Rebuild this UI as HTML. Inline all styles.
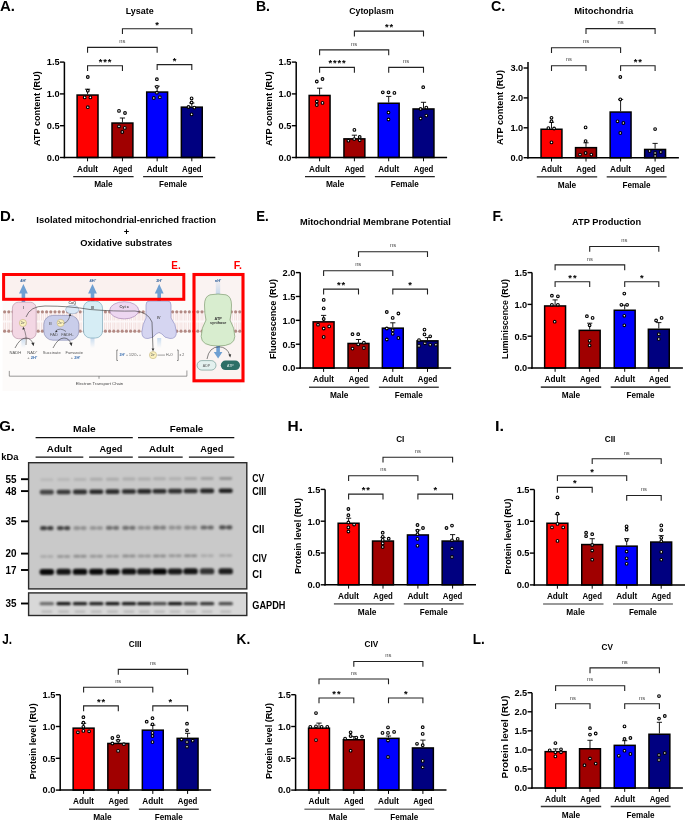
<!DOCTYPE html>
<html><head><meta charset="utf-8"><style>
html,body{margin:0;padding:0;background:#fff;}
svg{display:block;font-family:"Liberation Sans", sans-serif;will-change:transform;}
</style></head><body>
<svg width="685" height="820" viewBox="0 0 685 820">
<defs><filter id="bl" x="-20%" y="-50%" width="140%" height="200%"><feGaussianBlur stdDeviation="1.0"/></filter><linearGradient id="glow" x1="0" y1="0" x2="0" y2="1"><stop offset="0" stop-color="#c9dcef"/><stop offset="1" stop-color="#c9dcef" stop-opacity="0"/></linearGradient><linearGradient id="glowup" x1="0" y1="1" x2="0" y2="0"><stop offset="0" stop-color="#c3d6ea"/><stop offset="1" stop-color="#c3d6ea" stop-opacity="0.2"/></linearGradient></defs>
<rect width="685" height="820" fill="#fff"/>
<line x1="87.55" y1="94.30" x2="87.55" y2="89.20" stroke="#000" stroke-width="0.9"/>
<line x1="84.95" y1="89.20" x2="90.15" y2="89.20" stroke="#000" stroke-width="0.9"/>
<rect x="77.10" y="95.05" width="20.90" height="62.45" fill="#ff0000" stroke="#000" stroke-width="1.5"/>
<line x1="122.45" y1="122.30" x2="122.45" y2="118.00" stroke="#000" stroke-width="0.9"/>
<line x1="119.85" y1="118.00" x2="125.05" y2="118.00" stroke="#000" stroke-width="0.9"/>
<rect x="112.00" y="123.05" width="20.90" height="34.45" fill="#a00000" stroke="#000" stroke-width="1.5"/>
<line x1="157.15" y1="91.30" x2="157.15" y2="86.20" stroke="#000" stroke-width="0.9"/>
<line x1="154.55" y1="86.20" x2="159.75" y2="86.20" stroke="#000" stroke-width="0.9"/>
<rect x="146.70" y="92.05" width="20.90" height="65.45" fill="#0000ff" stroke="#000" stroke-width="1.5"/>
<line x1="191.80" y1="106.40" x2="191.80" y2="103.00" stroke="#000" stroke-width="0.9"/>
<line x1="189.20" y1="103.00" x2="194.40" y2="103.00" stroke="#000" stroke-width="0.9"/>
<rect x="181.35" y="107.15" width="20.90" height="50.35" fill="#000080" stroke="#000" stroke-width="1.5"/>
<circle cx="87.80" cy="77.00" r="1.35" fill="#fff" stroke="#000" stroke-width="1.1"/>
<circle cx="87.80" cy="90.70" r="1.35" fill="#fff" stroke="#000" stroke-width="1.1"/>
<circle cx="84.70" cy="97.40" r="1.35" fill="#fff" stroke="#000" stroke-width="1.1"/>
<circle cx="90.40" cy="97.40" r="1.35" fill="#fff" stroke="#000" stroke-width="1.1"/>
<circle cx="87.80" cy="107.20" r="1.35" fill="#fff" stroke="#000" stroke-width="1.1"/>
<circle cx="119.00" cy="110.90" r="1.35" fill="#fff" stroke="#000" stroke-width="1.1"/>
<circle cx="125.00" cy="113.00" r="1.35" fill="#fff" stroke="#000" stroke-width="1.1"/>
<circle cx="119.00" cy="126.40" r="1.35" fill="#fff" stroke="#000" stroke-width="1.1"/>
<circle cx="124.80" cy="127.90" r="1.35" fill="#fff" stroke="#000" stroke-width="1.1"/>
<circle cx="122.30" cy="132.00" r="1.35" fill="#fff" stroke="#000" stroke-width="1.1"/>
<circle cx="156.90" cy="79.20" r="1.35" fill="#fff" stroke="#000" stroke-width="1.1"/>
<circle cx="156.90" cy="86.80" r="1.35" fill="#fff" stroke="#000" stroke-width="1.1"/>
<circle cx="156.90" cy="92.70" r="1.35" fill="#fff" stroke="#000" stroke-width="1.1"/>
<circle cx="153.80" cy="98.00" r="1.35" fill="#fff" stroke="#000" stroke-width="1.1"/>
<circle cx="159.90" cy="97.20" r="1.35" fill="#fff" stroke="#000" stroke-width="1.1"/>
<circle cx="191.60" cy="98.40" r="1.35" fill="#fff" stroke="#000" stroke-width="1.1"/>
<circle cx="191.60" cy="102.50" r="1.35" fill="#fff" stroke="#000" stroke-width="1.1"/>
<circle cx="188.50" cy="107.00" r="1.35" fill="#fff" stroke="#000" stroke-width="1.1"/>
<circle cx="194.30" cy="107.60" r="1.35" fill="#fff" stroke="#000" stroke-width="1.1"/>
<circle cx="191.60" cy="114.40" r="1.35" fill="#fff" stroke="#000" stroke-width="1.1"/>
<line x1="64.40" y1="62.10" x2="64.40" y2="158.25" stroke="#000" stroke-width="1.5"/>
<line x1="63.65" y1="157.50" x2="215.30" y2="157.50" stroke="#000" stroke-width="1.5"/>
<line x1="60.00" y1="157.50" x2="64.40" y2="157.50" stroke="#000" stroke-width="1.4"/>
<text x="59.60" y="160.85" font-size="9.2" text-anchor="end" font-weight="bold" fill="#000" textLength="12.8" lengthAdjust="spacingAndGlyphs" >0.0</text>
<line x1="60.00" y1="125.70" x2="64.40" y2="125.70" stroke="#000" stroke-width="1.4"/>
<text x="59.60" y="129.05" font-size="9.2" text-anchor="end" font-weight="bold" fill="#000" textLength="12.8" lengthAdjust="spacingAndGlyphs" >0.5</text>
<line x1="60.00" y1="93.90" x2="64.40" y2="93.90" stroke="#000" stroke-width="1.4"/>
<text x="59.60" y="97.25" font-size="9.2" text-anchor="end" font-weight="bold" fill="#000" textLength="12.8" lengthAdjust="spacingAndGlyphs" >1.0</text>
<line x1="60.00" y1="62.10" x2="64.40" y2="62.10" stroke="#000" stroke-width="1.4"/>
<text x="59.60" y="65.45" font-size="9.2" text-anchor="end" font-weight="bold" fill="#000" textLength="12.8" lengthAdjust="spacingAndGlyphs" >1.5</text>
<line x1="87.55" y1="157.50" x2="87.55" y2="161.30" stroke="#000" stroke-width="1"/>
<line x1="122.45" y1="157.50" x2="122.45" y2="161.30" stroke="#000" stroke-width="1"/>
<line x1="157.15" y1="157.50" x2="157.15" y2="161.30" stroke="#000" stroke-width="1"/>
<line x1="191.80" y1="157.50" x2="191.80" y2="161.30" stroke="#000" stroke-width="1"/>
<text x="87.55" y="171.60" font-size="8.8" text-anchor="middle" font-weight="bold" fill="#000" textLength="21" lengthAdjust="spacingAndGlyphs" >Adult</text>
<text x="122.45" y="171.60" font-size="8.8" text-anchor="middle" font-weight="bold" fill="#000" textLength="19.5" lengthAdjust="spacingAndGlyphs" >Aged</text>
<text x="157.15" y="171.60" font-size="8.8" text-anchor="middle" font-weight="bold" fill="#000" textLength="21" lengthAdjust="spacingAndGlyphs" >Adult</text>
<text x="191.80" y="171.60" font-size="8.8" text-anchor="middle" font-weight="bold" fill="#000" textLength="19.5" lengthAdjust="spacingAndGlyphs" >Aged</text>
<line x1="73.20" y1="176.60" x2="133.60" y2="176.60" stroke="#222" stroke-width="1.3"/>
<line x1="143.10" y1="176.60" x2="203.00" y2="176.60" stroke="#222" stroke-width="1.3"/>
<text x="103.40" y="187.40" font-size="8.8" text-anchor="middle" font-weight="bold" fill="#000" textLength="18.5" lengthAdjust="spacingAndGlyphs" >Male</text>
<text x="173.00" y="187.40" font-size="8.8" text-anchor="middle" font-weight="bold" fill="#000" textLength="28" lengthAdjust="spacingAndGlyphs" >Female</text>
<path d="M87.55 71.10 V65.80 H122.45 V71.10" fill="none" stroke="#222" stroke-width="1.1"/>
<text x="105.50" y="64.80" font-size="9.4" text-anchor="middle" font-weight="bold" fill="#000" letter-spacing="0.9">***</text>
<path d="M157.15 69.90 V64.60 H191.80 V69.90" fill="none" stroke="#222" stroke-width="1.1"/>
<text x="174.98" y="63.60" font-size="9.4" text-anchor="middle" font-weight="bold" fill="#000" letter-spacing="0.9">*</text>
<path d="M87.55 52.70 V47.40 H157.15 V52.70" fill="none" stroke="#222" stroke-width="1.1"/>
<text x="122.35" y="43.10" font-size="5.8" text-anchor="middle" font-weight="normal" fill="#444" >ns</text>
<path d="M122.45 34.00 V28.70 H191.80 V34.00" fill="none" stroke="#222" stroke-width="1.1"/>
<text x="157.62" y="27.70" font-size="9.4" text-anchor="middle" font-weight="bold" fill="#000" letter-spacing="0.9">*</text>
<text x="139.70" y="14.00" font-size="9.4" text-anchor="middle" font-weight="bold" fill="#000" textLength="28" lengthAdjust="spacingAndGlyphs" >Lysate</text>
<text transform="translate(40.00,108.60) rotate(-90)" font-size="9.9" text-anchor="middle" font-weight="bold" textLength="75" lengthAdjust="spacingAndGlyphs">ATP content (RU)</text>
<line x1="319.60" y1="94.70" x2="319.60" y2="88.20" stroke="#000" stroke-width="0.9"/>
<line x1="317.00" y1="88.20" x2="322.20" y2="88.20" stroke="#000" stroke-width="0.9"/>
<rect x="309.15" y="95.45" width="20.90" height="62.05" fill="#ff0000" stroke="#000" stroke-width="1.5"/>
<line x1="354.40" y1="138.10" x2="354.40" y2="135.20" stroke="#000" stroke-width="0.9"/>
<line x1="351.80" y1="135.20" x2="357.00" y2="135.20" stroke="#000" stroke-width="0.9"/>
<rect x="343.95" y="138.85" width="20.90" height="18.65" fill="#a00000" stroke="#000" stroke-width="1.5"/>
<line x1="388.70" y1="102.50" x2="388.70" y2="96.40" stroke="#000" stroke-width="0.9"/>
<line x1="386.10" y1="96.40" x2="391.30" y2="96.40" stroke="#000" stroke-width="0.9"/>
<rect x="378.25" y="103.25" width="20.90" height="54.25" fill="#0000ff" stroke="#000" stroke-width="1.5"/>
<line x1="423.50" y1="108.20" x2="423.50" y2="102.30" stroke="#000" stroke-width="0.9"/>
<line x1="420.90" y1="102.30" x2="426.10" y2="102.30" stroke="#000" stroke-width="0.9"/>
<rect x="413.05" y="108.95" width="20.90" height="48.55" fill="#000080" stroke="#000" stroke-width="1.5"/>
<circle cx="316.80" cy="81.50" r="1.35" fill="#fff" stroke="#000" stroke-width="1.1"/>
<circle cx="322.50" cy="79.00" r="1.35" fill="#fff" stroke="#000" stroke-width="1.1"/>
<circle cx="316.80" cy="101.50" r="1.35" fill="#fff" stroke="#000" stroke-width="1.1"/>
<circle cx="316.80" cy="105.00" r="1.35" fill="#fff" stroke="#000" stroke-width="1.1"/>
<circle cx="322.50" cy="102.90" r="1.35" fill="#fff" stroke="#000" stroke-width="1.1"/>
<circle cx="354.40" cy="129.90" r="1.35" fill="#fff" stroke="#000" stroke-width="1.1"/>
<circle cx="348.40" cy="140.70" r="1.35" fill="#fff" stroke="#000" stroke-width="1.1"/>
<circle cx="354.20" cy="139.10" r="1.35" fill="#fff" stroke="#000" stroke-width="1.1"/>
<circle cx="359.70" cy="137.00" r="1.35" fill="#fff" stroke="#000" stroke-width="1.1"/>
<circle cx="359.70" cy="140.30" r="1.35" fill="#fff" stroke="#000" stroke-width="1.1"/>
<circle cx="382.80" cy="92.30" r="1.35" fill="#fff" stroke="#000" stroke-width="1.1"/>
<circle cx="388.50" cy="92.30" r="1.35" fill="#fff" stroke="#000" stroke-width="1.1"/>
<circle cx="394.40" cy="92.90" r="1.35" fill="#fff" stroke="#000" stroke-width="1.1"/>
<circle cx="388.50" cy="112.50" r="1.35" fill="#fff" stroke="#000" stroke-width="1.1"/>
<circle cx="388.50" cy="119.50" r="1.35" fill="#fff" stroke="#000" stroke-width="1.1"/>
<circle cx="423.20" cy="87.20" r="1.35" fill="#fff" stroke="#000" stroke-width="1.1"/>
<circle cx="420.60" cy="109.00" r="1.35" fill="#fff" stroke="#000" stroke-width="1.1"/>
<circle cx="426.30" cy="107.60" r="1.35" fill="#fff" stroke="#000" stroke-width="1.1"/>
<circle cx="426.30" cy="115.60" r="1.35" fill="#fff" stroke="#000" stroke-width="1.1"/>
<circle cx="420.60" cy="118.50" r="1.35" fill="#fff" stroke="#000" stroke-width="1.1"/>
<line x1="296.20" y1="62.10" x2="296.20" y2="158.25" stroke="#000" stroke-width="1.5"/>
<line x1="295.45" y1="157.50" x2="447.10" y2="157.50" stroke="#000" stroke-width="1.5"/>
<line x1="291.80" y1="157.50" x2="296.20" y2="157.50" stroke="#000" stroke-width="1.4"/>
<text x="291.40" y="160.85" font-size="9.2" text-anchor="end" font-weight="bold" fill="#000" textLength="12.8" lengthAdjust="spacingAndGlyphs" >0.0</text>
<line x1="291.80" y1="125.70" x2="296.20" y2="125.70" stroke="#000" stroke-width="1.4"/>
<text x="291.40" y="129.05" font-size="9.2" text-anchor="end" font-weight="bold" fill="#000" textLength="12.8" lengthAdjust="spacingAndGlyphs" >0.5</text>
<line x1="291.80" y1="93.90" x2="296.20" y2="93.90" stroke="#000" stroke-width="1.4"/>
<text x="291.40" y="97.25" font-size="9.2" text-anchor="end" font-weight="bold" fill="#000" textLength="12.8" lengthAdjust="spacingAndGlyphs" >1.0</text>
<line x1="291.80" y1="62.10" x2="296.20" y2="62.10" stroke="#000" stroke-width="1.4"/>
<text x="291.40" y="65.45" font-size="9.2" text-anchor="end" font-weight="bold" fill="#000" textLength="12.8" lengthAdjust="spacingAndGlyphs" >1.5</text>
<line x1="319.60" y1="157.50" x2="319.60" y2="161.30" stroke="#000" stroke-width="1"/>
<line x1="354.40" y1="157.50" x2="354.40" y2="161.30" stroke="#000" stroke-width="1"/>
<line x1="388.70" y1="157.50" x2="388.70" y2="161.30" stroke="#000" stroke-width="1"/>
<line x1="423.50" y1="157.50" x2="423.50" y2="161.30" stroke="#000" stroke-width="1"/>
<text x="319.60" y="171.60" font-size="8.8" text-anchor="middle" font-weight="bold" fill="#000" textLength="21" lengthAdjust="spacingAndGlyphs" >Adult</text>
<text x="354.40" y="171.60" font-size="8.8" text-anchor="middle" font-weight="bold" fill="#000" textLength="19.5" lengthAdjust="spacingAndGlyphs" >Aged</text>
<text x="388.70" y="171.60" font-size="8.8" text-anchor="middle" font-weight="bold" fill="#000" textLength="21" lengthAdjust="spacingAndGlyphs" >Adult</text>
<text x="423.50" y="171.60" font-size="8.8" text-anchor="middle" font-weight="bold" fill="#000" textLength="19.5" lengthAdjust="spacingAndGlyphs" >Aged</text>
<line x1="305.00" y1="176.60" x2="365.40" y2="176.60" stroke="#222" stroke-width="1.3"/>
<line x1="374.90" y1="176.60" x2="434.80" y2="176.60" stroke="#222" stroke-width="1.3"/>
<text x="335.20" y="187.40" font-size="8.8" text-anchor="middle" font-weight="bold" fill="#000" textLength="18.5" lengthAdjust="spacingAndGlyphs" >Male</text>
<text x="404.80" y="187.40" font-size="8.8" text-anchor="middle" font-weight="bold" fill="#000" textLength="28" lengthAdjust="spacingAndGlyphs" >Female</text>
<path d="M319.60 72.70 V67.40 H354.40 V72.70" fill="none" stroke="#222" stroke-width="1.1"/>
<text x="337.50" y="66.40" font-size="9.4" text-anchor="middle" font-weight="bold" fill="#000" letter-spacing="0.9">****</text>
<path d="M388.70 72.70 V67.40 H423.50 V72.70" fill="none" stroke="#222" stroke-width="1.1"/>
<text x="406.10" y="63.10" font-size="5.8" text-anchor="middle" font-weight="normal" fill="#444" >ns</text>
<path d="M319.60 55.20 V49.90 H388.70 V55.20" fill="none" stroke="#222" stroke-width="1.1"/>
<text x="354.15" y="45.60" font-size="5.8" text-anchor="middle" font-weight="normal" fill="#444" >ns</text>
<path d="M354.40 36.40 V31.10 H423.50 V36.40" fill="none" stroke="#222" stroke-width="1.1"/>
<text x="389.45" y="30.10" font-size="9.4" text-anchor="middle" font-weight="bold" fill="#000" letter-spacing="0.9">**</text>
<text x="371.50" y="14.40" font-size="9.4" text-anchor="middle" font-weight="bold" fill="#000" textLength="44.4" lengthAdjust="spacingAndGlyphs" >Cytoplasm</text>
<text transform="translate(271.60,108.60) rotate(-90)" font-size="9.9" text-anchor="middle" font-weight="bold" textLength="75" lengthAdjust="spacingAndGlyphs">ATP content (RU)</text>
<line x1="551.50" y1="128.50" x2="551.50" y2="122.30" stroke="#000" stroke-width="0.9"/>
<line x1="548.90" y1="122.30" x2="554.10" y2="122.30" stroke="#000" stroke-width="0.9"/>
<rect x="541.05" y="129.25" width="20.90" height="28.45" fill="#ff0000" stroke="#000" stroke-width="1.5"/>
<line x1="586.00" y1="146.90" x2="586.00" y2="142.80" stroke="#000" stroke-width="0.9"/>
<line x1="583.40" y1="142.80" x2="588.60" y2="142.80" stroke="#000" stroke-width="0.9"/>
<rect x="575.55" y="147.65" width="20.90" height="10.05" fill="#a00000" stroke="#000" stroke-width="1.5"/>
<line x1="620.60" y1="111.30" x2="620.60" y2="99.40" stroke="#000" stroke-width="0.9"/>
<line x1="618.00" y1="99.40" x2="623.20" y2="99.40" stroke="#000" stroke-width="0.9"/>
<rect x="610.15" y="112.05" width="20.90" height="45.65" fill="#0000ff" stroke="#000" stroke-width="1.5"/>
<line x1="655.10" y1="148.70" x2="655.10" y2="143.40" stroke="#000" stroke-width="0.9"/>
<line x1="652.50" y1="143.40" x2="657.70" y2="143.40" stroke="#000" stroke-width="0.9"/>
<rect x="644.65" y="149.45" width="20.90" height="8.25" fill="#000080" stroke="#000" stroke-width="1.5"/>
<circle cx="551.50" cy="117.80" r="1.35" fill="#fff" stroke="#000" stroke-width="1.1"/>
<circle cx="551.50" cy="121.30" r="1.35" fill="#fff" stroke="#000" stroke-width="1.1"/>
<circle cx="548.40" cy="128.10" r="1.35" fill="#fff" stroke="#000" stroke-width="1.1"/>
<circle cx="554.10" cy="128.50" r="1.35" fill="#fff" stroke="#000" stroke-width="1.1"/>
<circle cx="551.50" cy="142.40" r="1.35" fill="#fff" stroke="#000" stroke-width="1.1"/>
<circle cx="585.60" cy="127.40" r="1.35" fill="#fff" stroke="#000" stroke-width="1.1"/>
<circle cx="585.60" cy="141.10" r="1.35" fill="#fff" stroke="#000" stroke-width="1.1"/>
<circle cx="580.00" cy="154.60" r="1.35" fill="#fff" stroke="#000" stroke-width="1.1"/>
<circle cx="585.60" cy="153.00" r="1.35" fill="#fff" stroke="#000" stroke-width="1.1"/>
<circle cx="591.30" cy="154.60" r="1.35" fill="#fff" stroke="#000" stroke-width="1.1"/>
<circle cx="620.30" cy="77.00" r="1.35" fill="#fff" stroke="#000" stroke-width="1.1"/>
<circle cx="620.30" cy="99.40" r="1.35" fill="#fff" stroke="#000" stroke-width="1.1"/>
<circle cx="617.50" cy="121.30" r="1.35" fill="#fff" stroke="#000" stroke-width="1.1"/>
<circle cx="623.40" cy="123.00" r="1.35" fill="#fff" stroke="#000" stroke-width="1.1"/>
<circle cx="620.30" cy="133.00" r="1.35" fill="#fff" stroke="#000" stroke-width="1.1"/>
<circle cx="655.10" cy="129.10" r="1.35" fill="#fff" stroke="#000" stroke-width="1.1"/>
<circle cx="649.60" cy="151.00" r="1.35" fill="#fff" stroke="#000" stroke-width="1.1"/>
<circle cx="655.10" cy="153.00" r="1.35" fill="#fff" stroke="#000" stroke-width="1.1"/>
<circle cx="660.80" cy="152.00" r="1.35" fill="#fff" stroke="#000" stroke-width="1.1"/>
<circle cx="655.10" cy="156.00" r="1.35" fill="#fff" stroke="#000" stroke-width="1.1"/>
<line x1="528.00" y1="62.00" x2="528.00" y2="158.45" stroke="#000" stroke-width="1.5"/>
<line x1="527.25" y1="157.70" x2="678.90" y2="157.70" stroke="#000" stroke-width="1.5"/>
<line x1="523.60" y1="157.70" x2="528.00" y2="157.70" stroke="#000" stroke-width="1.4"/>
<text x="523.20" y="161.05" font-size="9.2" text-anchor="end" font-weight="bold" fill="#000" textLength="12.8" lengthAdjust="spacingAndGlyphs" >0.0</text>
<line x1="523.60" y1="127.80" x2="528.00" y2="127.80" stroke="#000" stroke-width="1.4"/>
<text x="523.20" y="131.15" font-size="9.2" text-anchor="end" font-weight="bold" fill="#000" textLength="12.8" lengthAdjust="spacingAndGlyphs" >1.0</text>
<line x1="523.60" y1="97.90" x2="528.00" y2="97.90" stroke="#000" stroke-width="1.4"/>
<text x="523.20" y="101.25" font-size="9.2" text-anchor="end" font-weight="bold" fill="#000" textLength="12.8" lengthAdjust="spacingAndGlyphs" >2.0</text>
<line x1="523.60" y1="68.00" x2="528.00" y2="68.00" stroke="#000" stroke-width="1.4"/>
<text x="523.20" y="71.35" font-size="9.2" text-anchor="end" font-weight="bold" fill="#000" textLength="12.8" lengthAdjust="spacingAndGlyphs" >3.0</text>
<line x1="551.50" y1="157.70" x2="551.50" y2="161.50" stroke="#000" stroke-width="1"/>
<line x1="586.00" y1="157.70" x2="586.00" y2="161.50" stroke="#000" stroke-width="1"/>
<line x1="620.60" y1="157.70" x2="620.60" y2="161.50" stroke="#000" stroke-width="1"/>
<line x1="655.10" y1="157.70" x2="655.10" y2="161.50" stroke="#000" stroke-width="1"/>
<text x="551.50" y="171.80" font-size="8.8" text-anchor="middle" font-weight="bold" fill="#000" textLength="21" lengthAdjust="spacingAndGlyphs" >Adult</text>
<text x="586.00" y="171.80" font-size="8.8" text-anchor="middle" font-weight="bold" fill="#000" textLength="19.5" lengthAdjust="spacingAndGlyphs" >Aged</text>
<text x="620.60" y="171.80" font-size="8.8" text-anchor="middle" font-weight="bold" fill="#000" textLength="21" lengthAdjust="spacingAndGlyphs" >Adult</text>
<text x="655.10" y="171.80" font-size="8.8" text-anchor="middle" font-weight="bold" fill="#000" textLength="19.5" lengthAdjust="spacingAndGlyphs" >Aged</text>
<line x1="536.80" y1="176.80" x2="597.20" y2="176.80" stroke="#222" stroke-width="1.3"/>
<line x1="606.70" y1="176.80" x2="666.60" y2="176.80" stroke="#222" stroke-width="1.3"/>
<text x="567.00" y="187.60" font-size="8.8" text-anchor="middle" font-weight="bold" fill="#000" textLength="18.5" lengthAdjust="spacingAndGlyphs" >Male</text>
<text x="636.60" y="187.60" font-size="8.8" text-anchor="middle" font-weight="bold" fill="#000" textLength="28" lengthAdjust="spacingAndGlyphs" >Female</text>
<path d="M551.50 71.00 V65.70 H586.00 V71.00" fill="none" stroke="#222" stroke-width="1.1"/>
<text x="568.75" y="61.40" font-size="5.8" text-anchor="middle" font-weight="normal" fill="#444" >ns</text>
<path d="M620.60 71.00 V65.70 H655.10 V71.00" fill="none" stroke="#222" stroke-width="1.1"/>
<text x="638.35" y="64.70" font-size="9.4" text-anchor="middle" font-weight="bold" fill="#000" letter-spacing="0.9">**</text>
<path d="M551.50 53.00 V47.70 H620.60 V53.00" fill="none" stroke="#222" stroke-width="1.1"/>
<text x="586.05" y="43.40" font-size="5.8" text-anchor="middle" font-weight="normal" fill="#444" >ns</text>
<path d="M586.00 33.90 V28.60 H655.10 V33.90" fill="none" stroke="#222" stroke-width="1.1"/>
<text x="620.55" y="24.30" font-size="5.8" text-anchor="middle" font-weight="normal" fill="#444" >ns</text>
<text x="603.70" y="14.40" font-size="9.4" text-anchor="middle" font-weight="bold" fill="#000" textLength="59" lengthAdjust="spacingAndGlyphs" >Mitochondria</text>
<text transform="translate(503.30,107.50) rotate(-90)" font-size="9.9" text-anchor="middle" font-weight="bold" textLength="75" lengthAdjust="spacingAndGlyphs">ATP content (RU)</text>
<line x1="323.60" y1="321.10" x2="323.60" y2="315.40" stroke="#000" stroke-width="0.9"/>
<line x1="321.00" y1="315.40" x2="326.20" y2="315.40" stroke="#000" stroke-width="0.9"/>
<rect x="313.15" y="321.85" width="20.90" height="46.25" fill="#ff0000" stroke="#000" stroke-width="1.5"/>
<line x1="358.50" y1="342.70" x2="358.50" y2="339.50" stroke="#000" stroke-width="0.9"/>
<line x1="355.90" y1="339.50" x2="361.10" y2="339.50" stroke="#000" stroke-width="0.9"/>
<rect x="348.05" y="343.45" width="20.90" height="24.65" fill="#a00000" stroke="#000" stroke-width="1.5"/>
<line x1="392.80" y1="327.40" x2="392.80" y2="322.80" stroke="#000" stroke-width="0.9"/>
<line x1="390.20" y1="322.80" x2="395.40" y2="322.80" stroke="#000" stroke-width="0.9"/>
<rect x="382.35" y="328.15" width="20.90" height="39.95" fill="#0000ff" stroke="#000" stroke-width="1.5"/>
<line x1="427.50" y1="340.10" x2="427.50" y2="337.60" stroke="#000" stroke-width="0.9"/>
<line x1="424.90" y1="337.60" x2="430.10" y2="337.60" stroke="#000" stroke-width="0.9"/>
<rect x="417.05" y="340.85" width="20.90" height="27.25" fill="#000080" stroke="#000" stroke-width="1.5"/>
<circle cx="323.70" cy="299.90" r="1.35" fill="#fff" stroke="#000" stroke-width="1.1"/>
<circle cx="323.70" cy="308.40" r="1.35" fill="#fff" stroke="#000" stroke-width="1.1"/>
<circle cx="323.70" cy="319.00" r="1.35" fill="#fff" stroke="#000" stroke-width="1.1"/>
<circle cx="318.00" cy="324.70" r="1.35" fill="#fff" stroke="#000" stroke-width="1.1"/>
<circle cx="323.70" cy="328.50" r="1.35" fill="#fff" stroke="#000" stroke-width="1.1"/>
<circle cx="329.20" cy="326.40" r="1.35" fill="#fff" stroke="#000" stroke-width="1.1"/>
<circle cx="323.70" cy="337.00" r="1.35" fill="#fff" stroke="#000" stroke-width="1.1"/>
<circle cx="352.50" cy="334.20" r="1.35" fill="#fff" stroke="#000" stroke-width="1.1"/>
<circle cx="358.20" cy="334.20" r="1.35" fill="#fff" stroke="#000" stroke-width="1.1"/>
<circle cx="358.20" cy="344.40" r="1.35" fill="#fff" stroke="#000" stroke-width="1.1"/>
<circle cx="363.90" cy="342.70" r="1.35" fill="#fff" stroke="#000" stroke-width="1.1"/>
<circle cx="352.50" cy="348.60" r="1.35" fill="#fff" stroke="#000" stroke-width="1.1"/>
<circle cx="363.90" cy="348.00" r="1.35" fill="#fff" stroke="#000" stroke-width="1.1"/>
<circle cx="386.80" cy="312.00" r="1.35" fill="#fff" stroke="#000" stroke-width="1.1"/>
<circle cx="398.40" cy="313.50" r="1.35" fill="#fff" stroke="#000" stroke-width="1.1"/>
<circle cx="392.70" cy="317.90" r="1.35" fill="#fff" stroke="#000" stroke-width="1.1"/>
<circle cx="386.80" cy="328.50" r="1.35" fill="#fff" stroke="#000" stroke-width="1.1"/>
<circle cx="392.70" cy="330.20" r="1.35" fill="#fff" stroke="#000" stroke-width="1.1"/>
<circle cx="392.70" cy="333.80" r="1.35" fill="#fff" stroke="#000" stroke-width="1.1"/>
<circle cx="386.80" cy="339.50" r="1.35" fill="#fff" stroke="#000" stroke-width="1.1"/>
<circle cx="398.40" cy="338.00" r="1.35" fill="#fff" stroke="#000" stroke-width="1.1"/>
<circle cx="424.50" cy="329.60" r="1.35" fill="#fff" stroke="#000" stroke-width="1.1"/>
<circle cx="424.50" cy="334.40" r="1.35" fill="#fff" stroke="#000" stroke-width="1.1"/>
<circle cx="430.20" cy="336.30" r="1.35" fill="#fff" stroke="#000" stroke-width="1.1"/>
<circle cx="419.00" cy="340.10" r="1.35" fill="#fff" stroke="#000" stroke-width="1.1"/>
<circle cx="424.90" cy="343.30" r="1.35" fill="#fff" stroke="#000" stroke-width="1.1"/>
<circle cx="430.20" cy="344.80" r="1.35" fill="#fff" stroke="#000" stroke-width="1.1"/>
<circle cx="435.90" cy="344.80" r="1.35" fill="#fff" stroke="#000" stroke-width="1.1"/>
<circle cx="419.00" cy="345.90" r="1.35" fill="#fff" stroke="#000" stroke-width="1.1"/>
<line x1="300.20" y1="272.60" x2="300.20" y2="368.85" stroke="#000" stroke-width="1.5"/>
<line x1="299.45" y1="368.10" x2="451.10" y2="368.10" stroke="#000" stroke-width="1.5"/>
<line x1="295.80" y1="368.10" x2="300.20" y2="368.10" stroke="#000" stroke-width="1.4"/>
<text x="295.40" y="371.45" font-size="9.2" text-anchor="end" font-weight="bold" fill="#000" textLength="12.8" lengthAdjust="spacingAndGlyphs" >0.0</text>
<line x1="295.80" y1="344.23" x2="300.20" y2="344.23" stroke="#000" stroke-width="1.4"/>
<text x="295.40" y="347.58" font-size="9.2" text-anchor="end" font-weight="bold" fill="#000" textLength="12.8" lengthAdjust="spacingAndGlyphs" >0.5</text>
<line x1="295.80" y1="320.35" x2="300.20" y2="320.35" stroke="#000" stroke-width="1.4"/>
<text x="295.40" y="323.70" font-size="9.2" text-anchor="end" font-weight="bold" fill="#000" textLength="12.8" lengthAdjust="spacingAndGlyphs" >1.0</text>
<line x1="295.80" y1="296.48" x2="300.20" y2="296.48" stroke="#000" stroke-width="1.4"/>
<text x="295.40" y="299.83" font-size="9.2" text-anchor="end" font-weight="bold" fill="#000" textLength="12.8" lengthAdjust="spacingAndGlyphs" >1.5</text>
<line x1="295.80" y1="272.60" x2="300.20" y2="272.60" stroke="#000" stroke-width="1.4"/>
<text x="295.40" y="275.95" font-size="9.2" text-anchor="end" font-weight="bold" fill="#000" textLength="12.8" lengthAdjust="spacingAndGlyphs" >2.0</text>
<line x1="323.60" y1="368.10" x2="323.60" y2="371.90" stroke="#000" stroke-width="1"/>
<line x1="358.50" y1="368.10" x2="358.50" y2="371.90" stroke="#000" stroke-width="1"/>
<line x1="392.80" y1="368.10" x2="392.80" y2="371.90" stroke="#000" stroke-width="1"/>
<line x1="427.50" y1="368.10" x2="427.50" y2="371.90" stroke="#000" stroke-width="1"/>
<text x="323.60" y="382.20" font-size="8.8" text-anchor="middle" font-weight="bold" fill="#000" textLength="21" lengthAdjust="spacingAndGlyphs" >Adult</text>
<text x="358.50" y="382.20" font-size="8.8" text-anchor="middle" font-weight="bold" fill="#000" textLength="19.5" lengthAdjust="spacingAndGlyphs" >Aged</text>
<text x="392.80" y="382.20" font-size="8.8" text-anchor="middle" font-weight="bold" fill="#000" textLength="21" lengthAdjust="spacingAndGlyphs" >Adult</text>
<text x="427.50" y="382.20" font-size="8.8" text-anchor="middle" font-weight="bold" fill="#000" textLength="19.5" lengthAdjust="spacingAndGlyphs" >Aged</text>
<line x1="309.00" y1="387.20" x2="369.40" y2="387.20" stroke="#444" stroke-width="1.6"/>
<line x1="378.90" y1="387.20" x2="438.80" y2="387.20" stroke="#444" stroke-width="1.6"/>
<text x="339.20" y="398.00" font-size="8.8" text-anchor="middle" font-weight="bold" fill="#000" textLength="18.5" lengthAdjust="spacingAndGlyphs" >Male</text>
<text x="408.80" y="398.00" font-size="8.8" text-anchor="middle" font-weight="bold" fill="#000" textLength="28" lengthAdjust="spacingAndGlyphs" >Female</text>
<path d="M323.60 294.40 V289.10 H358.50 V294.40" fill="none" stroke="#222" stroke-width="1.1"/>
<text x="341.55" y="288.10" font-size="9.4" text-anchor="middle" font-weight="bold" fill="#000" letter-spacing="0.9">**</text>
<path d="M392.80 294.40 V289.10 H427.50 V294.40" fill="none" stroke="#222" stroke-width="1.1"/>
<text x="410.65" y="288.10" font-size="9.4" text-anchor="middle" font-weight="bold" fill="#000" letter-spacing="0.9">*</text>
<path d="M323.60 276.00 V270.70 H392.80 V276.00" fill="none" stroke="#222" stroke-width="1.1"/>
<text x="358.20" y="266.40" font-size="5.8" text-anchor="middle" font-weight="normal" fill="#444" >ns</text>
<path d="M358.50 257.00 V251.70 H427.50 V257.00" fill="none" stroke="#222" stroke-width="1.1"/>
<text x="393.00" y="247.40" font-size="5.8" text-anchor="middle" font-weight="normal" fill="#444" >ns</text>
<text x="375.40" y="224.90" font-size="9.4" text-anchor="middle" font-weight="bold" fill="#000" textLength="150.8" lengthAdjust="spacingAndGlyphs" >Mitochondrial Membrane Potential</text>
<text transform="translate(275.50,319.00) rotate(-90)" font-size="9.9" text-anchor="middle" font-weight="bold" textLength="80" lengthAdjust="spacingAndGlyphs">Fluorescence (RU)</text>
<line x1="555.10" y1="305.20" x2="555.10" y2="299.90" stroke="#000" stroke-width="0.9"/>
<line x1="552.50" y1="299.90" x2="557.70" y2="299.90" stroke="#000" stroke-width="0.9"/>
<rect x="544.65" y="305.95" width="20.90" height="62.05" fill="#ff0000" stroke="#000" stroke-width="1.5"/>
<line x1="589.70" y1="329.60" x2="589.70" y2="323.20" stroke="#000" stroke-width="0.9"/>
<line x1="587.10" y1="323.20" x2="592.30" y2="323.20" stroke="#000" stroke-width="0.9"/>
<rect x="579.25" y="330.35" width="20.90" height="37.65" fill="#a00000" stroke="#000" stroke-width="1.5"/>
<line x1="624.70" y1="309.50" x2="624.70" y2="305.20" stroke="#000" stroke-width="0.9"/>
<line x1="622.10" y1="305.20" x2="627.30" y2="305.20" stroke="#000" stroke-width="0.9"/>
<rect x="614.25" y="310.25" width="20.90" height="57.75" fill="#0000ff" stroke="#000" stroke-width="1.5"/>
<line x1="658.80" y1="328.50" x2="658.80" y2="322.60" stroke="#000" stroke-width="0.9"/>
<line x1="656.20" y1="322.60" x2="661.40" y2="322.60" stroke="#000" stroke-width="0.9"/>
<rect x="648.35" y="329.25" width="20.90" height="38.75" fill="#000080" stroke="#000" stroke-width="1.5"/>
<circle cx="551.90" cy="295.70" r="1.35" fill="#fff" stroke="#000" stroke-width="1.1"/>
<circle cx="557.90" cy="296.30" r="1.35" fill="#fff" stroke="#000" stroke-width="1.1"/>
<circle cx="551.90" cy="304.80" r="1.35" fill="#fff" stroke="#000" stroke-width="1.1"/>
<circle cx="557.90" cy="304.80" r="1.35" fill="#fff" stroke="#000" stroke-width="1.1"/>
<circle cx="554.70" cy="321.70" r="1.35" fill="#fff" stroke="#000" stroke-width="1.1"/>
<circle cx="586.90" cy="316.20" r="1.35" fill="#fff" stroke="#000" stroke-width="1.1"/>
<circle cx="592.60" cy="317.90" r="1.35" fill="#fff" stroke="#000" stroke-width="1.1"/>
<circle cx="589.60" cy="325.30" r="1.35" fill="#fff" stroke="#000" stroke-width="1.1"/>
<circle cx="589.60" cy="340.80" r="1.35" fill="#fff" stroke="#000" stroke-width="1.1"/>
<circle cx="589.60" cy="345.40" r="1.35" fill="#fff" stroke="#000" stroke-width="1.1"/>
<circle cx="624.30" cy="293.60" r="1.35" fill="#fff" stroke="#000" stroke-width="1.1"/>
<circle cx="621.40" cy="304.80" r="1.35" fill="#fff" stroke="#000" stroke-width="1.1"/>
<circle cx="627.10" cy="304.80" r="1.35" fill="#fff" stroke="#000" stroke-width="1.1"/>
<circle cx="624.30" cy="315.80" r="1.35" fill="#fff" stroke="#000" stroke-width="1.1"/>
<circle cx="624.30" cy="325.30" r="1.35" fill="#fff" stroke="#000" stroke-width="1.1"/>
<circle cx="656.10" cy="320.50" r="1.35" fill="#fff" stroke="#000" stroke-width="1.1"/>
<circle cx="661.60" cy="317.90" r="1.35" fill="#fff" stroke="#000" stroke-width="1.1"/>
<circle cx="658.80" cy="334.20" r="1.35" fill="#fff" stroke="#000" stroke-width="1.1"/>
<circle cx="658.80" cy="339.10" r="1.35" fill="#fff" stroke="#000" stroke-width="1.1"/>
<line x1="532.00" y1="272.60" x2="532.00" y2="368.75" stroke="#000" stroke-width="1.5"/>
<line x1="531.25" y1="368.00" x2="682.90" y2="368.00" stroke="#000" stroke-width="1.5"/>
<line x1="527.60" y1="368.00" x2="532.00" y2="368.00" stroke="#000" stroke-width="1.4"/>
<text x="527.20" y="371.35" font-size="9.2" text-anchor="end" font-weight="bold" fill="#000" textLength="12.8" lengthAdjust="spacingAndGlyphs" >0.0</text>
<line x1="527.60" y1="336.20" x2="532.00" y2="336.20" stroke="#000" stroke-width="1.4"/>
<text x="527.20" y="339.55" font-size="9.2" text-anchor="end" font-weight="bold" fill="#000" textLength="12.8" lengthAdjust="spacingAndGlyphs" >0.5</text>
<line x1="527.60" y1="304.40" x2="532.00" y2="304.40" stroke="#000" stroke-width="1.4"/>
<text x="527.20" y="307.75" font-size="9.2" text-anchor="end" font-weight="bold" fill="#000" textLength="12.8" lengthAdjust="spacingAndGlyphs" >1.0</text>
<line x1="527.60" y1="272.60" x2="532.00" y2="272.60" stroke="#000" stroke-width="1.4"/>
<text x="527.20" y="275.95" font-size="9.2" text-anchor="end" font-weight="bold" fill="#000" textLength="12.8" lengthAdjust="spacingAndGlyphs" >1.5</text>
<line x1="555.10" y1="368.00" x2="555.10" y2="371.80" stroke="#000" stroke-width="1"/>
<line x1="589.70" y1="368.00" x2="589.70" y2="371.80" stroke="#000" stroke-width="1"/>
<line x1="624.70" y1="368.00" x2="624.70" y2="371.80" stroke="#000" stroke-width="1"/>
<line x1="658.80" y1="368.00" x2="658.80" y2="371.80" stroke="#000" stroke-width="1"/>
<text x="555.10" y="382.10" font-size="8.8" text-anchor="middle" font-weight="bold" fill="#000" textLength="21" lengthAdjust="spacingAndGlyphs" >Adult</text>
<text x="589.70" y="382.10" font-size="8.8" text-anchor="middle" font-weight="bold" fill="#000" textLength="19.5" lengthAdjust="spacingAndGlyphs" >Aged</text>
<text x="624.70" y="382.10" font-size="8.8" text-anchor="middle" font-weight="bold" fill="#000" textLength="21" lengthAdjust="spacingAndGlyphs" >Adult</text>
<text x="658.80" y="382.10" font-size="8.8" text-anchor="middle" font-weight="bold" fill="#000" textLength="19.5" lengthAdjust="spacingAndGlyphs" >Aged</text>
<line x1="540.80" y1="387.10" x2="601.20" y2="387.10" stroke="#444" stroke-width="1.6"/>
<line x1="610.70" y1="387.10" x2="670.60" y2="387.10" stroke="#444" stroke-width="1.6"/>
<text x="571.00" y="397.90" font-size="8.8" text-anchor="middle" font-weight="bold" fill="#000" textLength="18.5" lengthAdjust="spacingAndGlyphs" >Male</text>
<text x="640.60" y="397.90" font-size="8.8" text-anchor="middle" font-weight="bold" fill="#000" textLength="28" lengthAdjust="spacingAndGlyphs" >Female</text>
<path d="M555.10 287.10 V281.80 H589.70 V287.10" fill="none" stroke="#222" stroke-width="1.1"/>
<text x="572.90" y="280.80" font-size="9.4" text-anchor="middle" font-weight="bold" fill="#000" letter-spacing="0.9">**</text>
<path d="M624.70 287.10 V281.80 H658.80 V287.10" fill="none" stroke="#222" stroke-width="1.1"/>
<text x="642.25" y="280.80" font-size="9.4" text-anchor="middle" font-weight="bold" fill="#000" letter-spacing="0.9">*</text>
<path d="M555.10 270.20 V264.90 H624.70 V270.20" fill="none" stroke="#222" stroke-width="1.1"/>
<text x="589.90" y="260.60" font-size="5.8" text-anchor="middle" font-weight="normal" fill="#444" >ns</text>
<path d="M589.70 251.80 V246.50 H658.80 V251.80" fill="none" stroke="#222" stroke-width="1.1"/>
<text x="624.25" y="242.20" font-size="5.8" text-anchor="middle" font-weight="normal" fill="#444" >ns</text>
<text x="606.60" y="224.90" font-size="9.4" text-anchor="middle" font-weight="bold" fill="#000" textLength="69.2" lengthAdjust="spacingAndGlyphs" >ATP Production</text>
<text transform="translate(508.10,319.00) rotate(-90)" font-size="9.9" text-anchor="middle" font-weight="bold" textLength="80" lengthAdjust="spacingAndGlyphs">Luminiscence (RU)</text>
<line x1="348.60" y1="522.50" x2="348.60" y2="518.20" stroke="#000" stroke-width="0.9"/>
<line x1="346.00" y1="518.20" x2="351.20" y2="518.20" stroke="#000" stroke-width="0.9"/>
<rect x="338.15" y="523.25" width="20.90" height="61.55" fill="#ff0000" stroke="#000" stroke-width="1.5"/>
<line x1="383.00" y1="540.30" x2="383.00" y2="537.60" stroke="#000" stroke-width="0.9"/>
<line x1="380.40" y1="537.60" x2="385.60" y2="537.60" stroke="#000" stroke-width="0.9"/>
<rect x="372.55" y="541.05" width="20.90" height="43.75" fill="#a00000" stroke="#000" stroke-width="1.5"/>
<line x1="417.90" y1="534.20" x2="417.90" y2="530.00" stroke="#000" stroke-width="0.9"/>
<line x1="415.30" y1="530.00" x2="420.50" y2="530.00" stroke="#000" stroke-width="0.9"/>
<rect x="407.45" y="534.95" width="20.90" height="49.85" fill="#0000ff" stroke="#000" stroke-width="1.5"/>
<line x1="452.60" y1="540.30" x2="452.60" y2="534.60" stroke="#000" stroke-width="0.9"/>
<line x1="450.00" y1="534.60" x2="455.20" y2="534.60" stroke="#000" stroke-width="0.9"/>
<rect x="442.15" y="541.05" width="20.90" height="43.75" fill="#000080" stroke="#000" stroke-width="1.5"/>
<circle cx="348.40" cy="509.00" r="1.35" fill="#fff" stroke="#000" stroke-width="1.1"/>
<circle cx="348.40" cy="515.20" r="1.35" fill="#fff" stroke="#000" stroke-width="1.1"/>
<circle cx="348.40" cy="522.50" r="1.35" fill="#fff" stroke="#000" stroke-width="1.1"/>
<circle cx="354.10" cy="524.60" r="1.35" fill="#fff" stroke="#000" stroke-width="1.1"/>
<circle cx="348.40" cy="527.40" r="1.35" fill="#fff" stroke="#000" stroke-width="1.1"/>
<circle cx="348.40" cy="531.50" r="1.35" fill="#fff" stroke="#000" stroke-width="1.1"/>
<circle cx="382.70" cy="532.70" r="1.35" fill="#fff" stroke="#000" stroke-width="1.1"/>
<circle cx="382.70" cy="536.80" r="1.35" fill="#fff" stroke="#000" stroke-width="1.1"/>
<circle cx="382.70" cy="539.90" r="1.35" fill="#fff" stroke="#000" stroke-width="1.1"/>
<circle cx="388.70" cy="538.70" r="1.35" fill="#fff" stroke="#000" stroke-width="1.1"/>
<circle cx="382.70" cy="543.40" r="1.35" fill="#fff" stroke="#000" stroke-width="1.1"/>
<circle cx="382.70" cy="547.00" r="1.35" fill="#fff" stroke="#000" stroke-width="1.1"/>
<circle cx="417.50" cy="525.00" r="1.35" fill="#fff" stroke="#000" stroke-width="1.1"/>
<circle cx="423.00" cy="528.00" r="1.35" fill="#fff" stroke="#000" stroke-width="1.1"/>
<circle cx="417.50" cy="530.70" r="1.35" fill="#fff" stroke="#000" stroke-width="1.1"/>
<circle cx="417.50" cy="534.20" r="1.35" fill="#fff" stroke="#000" stroke-width="1.1"/>
<circle cx="417.50" cy="538.90" r="1.35" fill="#fff" stroke="#000" stroke-width="1.1"/>
<circle cx="417.50" cy="545.80" r="1.35" fill="#fff" stroke="#000" stroke-width="1.1"/>
<circle cx="446.50" cy="528.00" r="1.35" fill="#fff" stroke="#000" stroke-width="1.1"/>
<circle cx="452.00" cy="525.60" r="1.35" fill="#fff" stroke="#000" stroke-width="1.1"/>
<circle cx="452.00" cy="540.30" r="1.35" fill="#fff" stroke="#000" stroke-width="1.1"/>
<circle cx="457.70" cy="538.90" r="1.35" fill="#fff" stroke="#000" stroke-width="1.1"/>
<circle cx="452.00" cy="548.50" r="1.35" fill="#fff" stroke="#000" stroke-width="1.1"/>
<circle cx="452.00" cy="557.00" r="1.35" fill="#fff" stroke="#000" stroke-width="1.1"/>
<line x1="325.10" y1="489.40" x2="325.10" y2="585.55" stroke="#000" stroke-width="1.5"/>
<line x1="324.35" y1="584.80" x2="476.00" y2="584.80" stroke="#000" stroke-width="1.5"/>
<line x1="320.70" y1="584.80" x2="325.10" y2="584.80" stroke="#000" stroke-width="1.4"/>
<text x="320.30" y="588.15" font-size="9.2" text-anchor="end" font-weight="bold" fill="#000" textLength="12.8" lengthAdjust="spacingAndGlyphs" >0.0</text>
<line x1="320.70" y1="553.00" x2="325.10" y2="553.00" stroke="#000" stroke-width="1.4"/>
<text x="320.30" y="556.35" font-size="9.2" text-anchor="end" font-weight="bold" fill="#000" textLength="12.8" lengthAdjust="spacingAndGlyphs" >0.5</text>
<line x1="320.70" y1="521.20" x2="325.10" y2="521.20" stroke="#000" stroke-width="1.4"/>
<text x="320.30" y="524.55" font-size="9.2" text-anchor="end" font-weight="bold" fill="#000" textLength="12.8" lengthAdjust="spacingAndGlyphs" >1.0</text>
<line x1="320.70" y1="489.40" x2="325.10" y2="489.40" stroke="#000" stroke-width="1.4"/>
<text x="320.30" y="492.75" font-size="9.2" text-anchor="end" font-weight="bold" fill="#000" textLength="12.8" lengthAdjust="spacingAndGlyphs" >1.5</text>
<line x1="348.60" y1="584.80" x2="348.60" y2="588.60" stroke="#000" stroke-width="1"/>
<line x1="383.00" y1="584.80" x2="383.00" y2="588.60" stroke="#000" stroke-width="1"/>
<line x1="417.90" y1="584.80" x2="417.90" y2="588.60" stroke="#000" stroke-width="1"/>
<line x1="452.60" y1="584.80" x2="452.60" y2="588.60" stroke="#000" stroke-width="1"/>
<text x="348.60" y="598.90" font-size="8.8" text-anchor="middle" font-weight="bold" fill="#000" textLength="21" lengthAdjust="spacingAndGlyphs" >Adult</text>
<text x="383.00" y="598.90" font-size="8.8" text-anchor="middle" font-weight="bold" fill="#000" textLength="19.5" lengthAdjust="spacingAndGlyphs" >Aged</text>
<text x="417.90" y="598.90" font-size="8.8" text-anchor="middle" font-weight="bold" fill="#000" textLength="21" lengthAdjust="spacingAndGlyphs" >Adult</text>
<text x="452.60" y="598.90" font-size="8.8" text-anchor="middle" font-weight="bold" fill="#000" textLength="19.5" lengthAdjust="spacingAndGlyphs" >Aged</text>
<line x1="333.90" y1="603.90" x2="394.30" y2="603.90" stroke="#777" stroke-width="1.6"/>
<line x1="403.80" y1="603.90" x2="463.70" y2="603.90" stroke="#777" stroke-width="1.6"/>
<text x="367.10" y="614.70" font-size="8.8" text-anchor="middle" font-weight="bold" fill="#000" textLength="18.5" lengthAdjust="spacingAndGlyphs" >Male</text>
<text x="433.70" y="614.70" font-size="8.8" text-anchor="middle" font-weight="bold" fill="#000" textLength="28" lengthAdjust="spacingAndGlyphs" >Female</text>
<path d="M348.60 499.40 V494.10 H383.00 V499.40" fill="none" stroke="#222" stroke-width="1.1"/>
<text x="366.30" y="493.10" font-size="9.4" text-anchor="middle" font-weight="bold" fill="#000" letter-spacing="0.9">**</text>
<path d="M417.90 499.40 V494.10 H452.60 V499.40" fill="none" stroke="#222" stroke-width="1.1"/>
<text x="435.75" y="493.10" font-size="9.4" text-anchor="middle" font-weight="bold" fill="#000" letter-spacing="0.9">*</text>
<path d="M348.60 481.00 V475.70 H417.90 V481.00" fill="none" stroke="#222" stroke-width="1.1"/>
<text x="383.25" y="471.40" font-size="5.8" text-anchor="middle" font-weight="normal" fill="#444" >ns</text>
<path d="M383.00 462.60 V457.30 H452.60 V462.60" fill="none" stroke="#222" stroke-width="1.1"/>
<text x="417.80" y="453.00" font-size="5.8" text-anchor="middle" font-weight="normal" fill="#444" >ns</text>
<text x="400.30" y="442.10" font-size="8.2" text-anchor="middle" font-weight="bold" fill="#000" >CI</text>
<text transform="translate(301.30,536.00) rotate(-90)" font-size="9.9" text-anchor="middle" font-weight="bold" textLength="76" lengthAdjust="spacingAndGlyphs">Protein level (RU)</text>
<line x1="557.40" y1="522.50" x2="557.40" y2="514.30" stroke="#000" stroke-width="0.9"/>
<line x1="554.80" y1="514.30" x2="560.00" y2="514.30" stroke="#000" stroke-width="0.9"/>
<rect x="546.95" y="523.25" width="20.90" height="61.65" fill="#ff0000" stroke="#000" stroke-width="1.5"/>
<line x1="592.20" y1="543.80" x2="592.20" y2="538.70" stroke="#000" stroke-width="0.9"/>
<line x1="589.60" y1="538.70" x2="594.80" y2="538.70" stroke="#000" stroke-width="0.9"/>
<rect x="581.75" y="544.55" width="20.90" height="40.35" fill="#a00000" stroke="#000" stroke-width="1.5"/>
<line x1="626.70" y1="545.40" x2="626.70" y2="538.70" stroke="#000" stroke-width="0.9"/>
<line x1="624.10" y1="538.70" x2="629.30" y2="538.70" stroke="#000" stroke-width="0.9"/>
<rect x="616.25" y="546.15" width="20.90" height="38.75" fill="#0000ff" stroke="#000" stroke-width="1.5"/>
<line x1="661.20" y1="541.30" x2="661.20" y2="535.60" stroke="#000" stroke-width="0.9"/>
<line x1="658.60" y1="535.60" x2="663.80" y2="535.60" stroke="#000" stroke-width="0.9"/>
<rect x="650.75" y="542.05" width="20.90" height="42.85" fill="#000080" stroke="#000" stroke-width="1.5"/>
<circle cx="557.50" cy="497.40" r="1.35" fill="#fff" stroke="#000" stroke-width="1.1"/>
<circle cx="557.50" cy="513.70" r="1.35" fill="#fff" stroke="#000" stroke-width="1.1"/>
<circle cx="557.50" cy="523.90" r="1.35" fill="#fff" stroke="#000" stroke-width="1.1"/>
<circle cx="552.00" cy="527.40" r="1.35" fill="#fff" stroke="#000" stroke-width="1.1"/>
<circle cx="563.20" cy="527.40" r="1.35" fill="#fff" stroke="#000" stroke-width="1.1"/>
<circle cx="557.50" cy="540.90" r="1.35" fill="#fff" stroke="#000" stroke-width="1.1"/>
<circle cx="586.10" cy="532.70" r="1.35" fill="#fff" stroke="#000" stroke-width="1.1"/>
<circle cx="586.10" cy="536.20" r="1.35" fill="#fff" stroke="#000" stroke-width="1.1"/>
<circle cx="592.20" cy="534.20" r="1.35" fill="#fff" stroke="#000" stroke-width="1.1"/>
<circle cx="592.20" cy="545.00" r="1.35" fill="#fff" stroke="#000" stroke-width="1.1"/>
<circle cx="592.20" cy="550.50" r="1.35" fill="#fff" stroke="#000" stroke-width="1.1"/>
<circle cx="592.20" cy="559.70" r="1.35" fill="#fff" stroke="#000" stroke-width="1.1"/>
<circle cx="626.60" cy="526.40" r="1.35" fill="#fff" stroke="#000" stroke-width="1.1"/>
<circle cx="626.60" cy="529.70" r="1.35" fill="#fff" stroke="#000" stroke-width="1.1"/>
<circle cx="626.60" cy="539.90" r="1.35" fill="#fff" stroke="#000" stroke-width="1.1"/>
<circle cx="626.60" cy="551.50" r="1.35" fill="#fff" stroke="#000" stroke-width="1.1"/>
<circle cx="626.60" cy="558.30" r="1.35" fill="#fff" stroke="#000" stroke-width="1.1"/>
<circle cx="626.60" cy="563.80" r="1.35" fill="#fff" stroke="#000" stroke-width="1.1"/>
<circle cx="661.30" cy="525.40" r="1.35" fill="#fff" stroke="#000" stroke-width="1.1"/>
<circle cx="661.30" cy="530.10" r="1.35" fill="#fff" stroke="#000" stroke-width="1.1"/>
<circle cx="661.30" cy="537.80" r="1.35" fill="#fff" stroke="#000" stroke-width="1.1"/>
<circle cx="661.30" cy="541.30" r="1.35" fill="#fff" stroke="#000" stroke-width="1.1"/>
<circle cx="661.30" cy="551.90" r="1.35" fill="#fff" stroke="#000" stroke-width="1.1"/>
<circle cx="661.30" cy="559.70" r="1.35" fill="#fff" stroke="#000" stroke-width="1.1"/>
<line x1="534.30" y1="489.50" x2="534.30" y2="585.65" stroke="#000" stroke-width="1.5"/>
<line x1="533.55" y1="584.90" x2="685.20" y2="584.90" stroke="#000" stroke-width="1.5"/>
<line x1="529.90" y1="584.90" x2="534.30" y2="584.90" stroke="#000" stroke-width="1.4"/>
<text x="529.50" y="588.25" font-size="9.2" text-anchor="end" font-weight="bold" fill="#000" textLength="12.8" lengthAdjust="spacingAndGlyphs" >0.0</text>
<line x1="529.90" y1="553.10" x2="534.30" y2="553.10" stroke="#000" stroke-width="1.4"/>
<text x="529.50" y="556.45" font-size="9.2" text-anchor="end" font-weight="bold" fill="#000" textLength="12.8" lengthAdjust="spacingAndGlyphs" >0.5</text>
<line x1="529.90" y1="521.30" x2="534.30" y2="521.30" stroke="#000" stroke-width="1.4"/>
<text x="529.50" y="524.65" font-size="9.2" text-anchor="end" font-weight="bold" fill="#000" textLength="12.8" lengthAdjust="spacingAndGlyphs" >1.0</text>
<line x1="529.90" y1="489.50" x2="534.30" y2="489.50" stroke="#000" stroke-width="1.4"/>
<text x="529.50" y="492.85" font-size="9.2" text-anchor="end" font-weight="bold" fill="#000" textLength="12.8" lengthAdjust="spacingAndGlyphs" >1.5</text>
<line x1="557.40" y1="584.90" x2="557.40" y2="588.70" stroke="#000" stroke-width="1"/>
<line x1="592.20" y1="584.90" x2="592.20" y2="588.70" stroke="#000" stroke-width="1"/>
<line x1="626.70" y1="584.90" x2="626.70" y2="588.70" stroke="#000" stroke-width="1"/>
<line x1="661.20" y1="584.90" x2="661.20" y2="588.70" stroke="#000" stroke-width="1"/>
<text x="557.40" y="599.00" font-size="8.8" text-anchor="middle" font-weight="bold" fill="#000" textLength="21" lengthAdjust="spacingAndGlyphs" >Adult</text>
<text x="592.20" y="599.00" font-size="8.8" text-anchor="middle" font-weight="bold" fill="#000" textLength="19.5" lengthAdjust="spacingAndGlyphs" >Aged</text>
<text x="626.70" y="599.00" font-size="8.8" text-anchor="middle" font-weight="bold" fill="#000" textLength="21" lengthAdjust="spacingAndGlyphs" >Adult</text>
<text x="661.20" y="599.00" font-size="8.8" text-anchor="middle" font-weight="bold" fill="#000" textLength="19.5" lengthAdjust="spacingAndGlyphs" >Aged</text>
<line x1="543.10" y1="604.00" x2="603.50" y2="604.00" stroke="#777" stroke-width="1.6"/>
<line x1="613.00" y1="604.00" x2="672.90" y2="604.00" stroke="#777" stroke-width="1.6"/>
<text x="575.60" y="614.80" font-size="8.8" text-anchor="middle" font-weight="bold" fill="#000" textLength="18.5" lengthAdjust="spacingAndGlyphs" >Male</text>
<text x="642.90" y="614.80" font-size="8.8" text-anchor="middle" font-weight="bold" fill="#000" textLength="28" lengthAdjust="spacingAndGlyphs" >Female</text>
<path d="M557.40 492.70 V487.40 H592.20 V492.70" fill="none" stroke="#222" stroke-width="1.1"/>
<text x="575.30" y="486.40" font-size="9.4" text-anchor="middle" font-weight="bold" fill="#000" letter-spacing="0.9">*</text>
<path d="M626.70 500.80 V495.50 H661.20 V500.80" fill="none" stroke="#222" stroke-width="1.1"/>
<text x="643.95" y="491.20" font-size="5.8" text-anchor="middle" font-weight="normal" fill="#444" >ns</text>
<path d="M557.40 481.00 V475.70 H626.70 V481.00" fill="none" stroke="#222" stroke-width="1.1"/>
<text x="592.55" y="474.70" font-size="9.4" text-anchor="middle" font-weight="bold" fill="#000" letter-spacing="0.9">*</text>
<path d="M592.20 464.10 V458.80 H661.20 V464.10" fill="none" stroke="#222" stroke-width="1.1"/>
<text x="626.70" y="454.50" font-size="5.8" text-anchor="middle" font-weight="normal" fill="#444" >ns</text>
<text x="610.00" y="442.10" font-size="8.2" text-anchor="middle" font-weight="bold" fill="#000" >CII</text>
<text transform="translate(510.80,536.50) rotate(-90)" font-size="9.9" text-anchor="middle" font-weight="bold" textLength="76" lengthAdjust="spacingAndGlyphs">Protein level (RU)</text>
<line x1="83.60" y1="727.40" x2="83.60" y2="723.30" stroke="#000" stroke-width="0.9"/>
<line x1="81.00" y1="723.30" x2="86.20" y2="723.30" stroke="#000" stroke-width="0.9"/>
<rect x="73.15" y="728.15" width="20.90" height="61.95" fill="#ff0000" stroke="#000" stroke-width="1.5"/>
<line x1="118.30" y1="742.70" x2="118.30" y2="740.10" stroke="#000" stroke-width="0.9"/>
<line x1="115.70" y1="740.10" x2="120.90" y2="740.10" stroke="#000" stroke-width="0.9"/>
<rect x="107.85" y="743.45" width="20.90" height="46.65" fill="#a00000" stroke="#000" stroke-width="1.5"/>
<line x1="152.80" y1="729.40" x2="152.80" y2="725.20" stroke="#000" stroke-width="0.9"/>
<line x1="150.20" y1="725.20" x2="155.40" y2="725.20" stroke="#000" stroke-width="0.9"/>
<rect x="142.35" y="730.15" width="20.90" height="59.95" fill="#0000ff" stroke="#000" stroke-width="1.5"/>
<line x1="187.60" y1="737.60" x2="187.60" y2="733.30" stroke="#000" stroke-width="0.9"/>
<line x1="185.00" y1="733.30" x2="190.20" y2="733.30" stroke="#000" stroke-width="0.9"/>
<rect x="177.15" y="738.35" width="20.90" height="51.75" fill="#000080" stroke="#000" stroke-width="1.5"/>
<circle cx="83.40" cy="717.20" r="1.35" fill="#fff" stroke="#000" stroke-width="1.1"/>
<circle cx="83.40" cy="722.70" r="1.35" fill="#fff" stroke="#000" stroke-width="1.1"/>
<circle cx="83.40" cy="726.80" r="1.35" fill="#fff" stroke="#000" stroke-width="1.1"/>
<circle cx="77.90" cy="732.30" r="1.35" fill="#fff" stroke="#000" stroke-width="1.1"/>
<circle cx="83.40" cy="730.90" r="1.35" fill="#fff" stroke="#000" stroke-width="1.1"/>
<circle cx="89.10" cy="731.30" r="1.35" fill="#fff" stroke="#000" stroke-width="1.1"/>
<circle cx="112.40" cy="738.00" r="1.35" fill="#fff" stroke="#000" stroke-width="1.1"/>
<circle cx="118.10" cy="736.40" r="1.35" fill="#fff" stroke="#000" stroke-width="1.1"/>
<circle cx="118.10" cy="740.70" r="1.35" fill="#fff" stroke="#000" stroke-width="1.1"/>
<circle cx="112.40" cy="743.50" r="1.35" fill="#fff" stroke="#000" stroke-width="1.1"/>
<circle cx="123.90" cy="744.20" r="1.35" fill="#fff" stroke="#000" stroke-width="1.1"/>
<circle cx="118.10" cy="750.90" r="1.35" fill="#fff" stroke="#000" stroke-width="1.1"/>
<circle cx="152.50" cy="718.20" r="1.35" fill="#fff" stroke="#000" stroke-width="1.1"/>
<circle cx="146.70" cy="721.70" r="1.35" fill="#fff" stroke="#000" stroke-width="1.1"/>
<circle cx="152.50" cy="724.30" r="1.35" fill="#fff" stroke="#000" stroke-width="1.1"/>
<circle cx="152.50" cy="732.90" r="1.35" fill="#fff" stroke="#000" stroke-width="1.1"/>
<circle cx="152.50" cy="736.00" r="1.35" fill="#fff" stroke="#000" stroke-width="1.1"/>
<circle cx="152.50" cy="742.10" r="1.35" fill="#fff" stroke="#000" stroke-width="1.1"/>
<circle cx="187.00" cy="723.70" r="1.35" fill="#fff" stroke="#000" stroke-width="1.1"/>
<circle cx="187.00" cy="730.30" r="1.35" fill="#fff" stroke="#000" stroke-width="1.1"/>
<circle cx="181.50" cy="739.50" r="1.35" fill="#fff" stroke="#000" stroke-width="1.1"/>
<circle cx="192.70" cy="740.70" r="1.35" fill="#fff" stroke="#000" stroke-width="1.1"/>
<circle cx="187.00" cy="742.10" r="1.35" fill="#fff" stroke="#000" stroke-width="1.1"/>
<circle cx="187.00" cy="746.80" r="1.35" fill="#fff" stroke="#000" stroke-width="1.1"/>
<line x1="60.20" y1="694.70" x2="60.20" y2="790.85" stroke="#000" stroke-width="1.5"/>
<line x1="59.45" y1="790.10" x2="211.10" y2="790.10" stroke="#000" stroke-width="1.5"/>
<line x1="55.80" y1="790.10" x2="60.20" y2="790.10" stroke="#000" stroke-width="1.4"/>
<text x="55.40" y="793.45" font-size="9.2" text-anchor="end" font-weight="bold" fill="#000" textLength="12.8" lengthAdjust="spacingAndGlyphs" >0.0</text>
<line x1="55.80" y1="758.30" x2="60.20" y2="758.30" stroke="#000" stroke-width="1.4"/>
<text x="55.40" y="761.65" font-size="9.2" text-anchor="end" font-weight="bold" fill="#000" textLength="12.8" lengthAdjust="spacingAndGlyphs" >0.5</text>
<line x1="55.80" y1="726.50" x2="60.20" y2="726.50" stroke="#000" stroke-width="1.4"/>
<text x="55.40" y="729.85" font-size="9.2" text-anchor="end" font-weight="bold" fill="#000" textLength="12.8" lengthAdjust="spacingAndGlyphs" >1.0</text>
<line x1="55.80" y1="694.70" x2="60.20" y2="694.70" stroke="#000" stroke-width="1.4"/>
<text x="55.40" y="698.05" font-size="9.2" text-anchor="end" font-weight="bold" fill="#000" textLength="12.8" lengthAdjust="spacingAndGlyphs" >1.5</text>
<line x1="83.60" y1="790.10" x2="83.60" y2="793.90" stroke="#000" stroke-width="1"/>
<line x1="118.30" y1="790.10" x2="118.30" y2="793.90" stroke="#000" stroke-width="1"/>
<line x1="152.80" y1="790.10" x2="152.80" y2="793.90" stroke="#000" stroke-width="1"/>
<line x1="187.60" y1="790.10" x2="187.60" y2="793.90" stroke="#000" stroke-width="1"/>
<text x="83.60" y="804.20" font-size="8.8" text-anchor="middle" font-weight="bold" fill="#000" textLength="21" lengthAdjust="spacingAndGlyphs" >Adult</text>
<text x="118.30" y="804.20" font-size="8.8" text-anchor="middle" font-weight="bold" fill="#000" textLength="19.5" lengthAdjust="spacingAndGlyphs" >Aged</text>
<text x="152.80" y="804.20" font-size="8.8" text-anchor="middle" font-weight="bold" fill="#000" textLength="21" lengthAdjust="spacingAndGlyphs" >Adult</text>
<text x="187.60" y="804.20" font-size="8.8" text-anchor="middle" font-weight="bold" fill="#000" textLength="19.5" lengthAdjust="spacingAndGlyphs" >Aged</text>
<line x1="69.00" y1="809.20" x2="129.40" y2="809.20" stroke="#444" stroke-width="1.6"/>
<line x1="138.90" y1="809.20" x2="198.80" y2="809.20" stroke="#444" stroke-width="1.6"/>
<text x="102.40" y="820.00" font-size="8.8" text-anchor="middle" font-weight="bold" fill="#000" textLength="18.5" lengthAdjust="spacingAndGlyphs" >Male</text>
<text x="168.80" y="820.00" font-size="8.8" text-anchor="middle" font-weight="bold" fill="#000" textLength="28" lengthAdjust="spacingAndGlyphs" >Female</text>
<path d="M83.60 711.20 V705.90 H118.30 V711.20" fill="none" stroke="#222" stroke-width="1.1"/>
<text x="101.45" y="704.90" font-size="9.4" text-anchor="middle" font-weight="bold" fill="#000" letter-spacing="0.9">**</text>
<path d="M152.80 711.20 V705.90 H187.60 V711.20" fill="none" stroke="#222" stroke-width="1.1"/>
<text x="170.70" y="704.90" font-size="9.4" text-anchor="middle" font-weight="bold" fill="#000" letter-spacing="0.9">*</text>
<path d="M83.60 692.50 V687.20 H152.80 V692.50" fill="none" stroke="#222" stroke-width="1.1"/>
<text x="118.20" y="682.90" font-size="5.8" text-anchor="middle" font-weight="normal" fill="#444" >ns</text>
<path d="M118.30 674.70 V669.40 H187.60 V674.70" fill="none" stroke="#222" stroke-width="1.1"/>
<text x="152.95" y="665.10" font-size="5.8" text-anchor="middle" font-weight="normal" fill="#444" >ns</text>
<text x="135.20" y="646.90" font-size="8.2" text-anchor="middle" font-weight="bold" fill="#000" >CIII</text>
<text transform="translate(35.90,741.30) rotate(-90)" font-size="9.9" text-anchor="middle" font-weight="bold" textLength="76" lengthAdjust="spacingAndGlyphs">Protein level (RU)</text>
<line x1="319.00" y1="727.40" x2="319.00" y2="723.10" stroke="#000" stroke-width="0.9"/>
<line x1="316.40" y1="723.10" x2="321.60" y2="723.10" stroke="#000" stroke-width="0.9"/>
<rect x="308.55" y="728.15" width="20.90" height="61.95" fill="#ff0000" stroke="#000" stroke-width="1.5"/>
<line x1="353.80" y1="739.00" x2="353.80" y2="736.60" stroke="#000" stroke-width="0.9"/>
<line x1="351.20" y1="736.60" x2="356.40" y2="736.60" stroke="#000" stroke-width="0.9"/>
<rect x="343.35" y="739.75" width="20.90" height="50.35" fill="#a00000" stroke="#000" stroke-width="1.5"/>
<line x1="388.50" y1="737.60" x2="388.50" y2="736.00" stroke="#000" stroke-width="0.9"/>
<line x1="385.90" y1="736.00" x2="391.10" y2="736.00" stroke="#000" stroke-width="0.9"/>
<rect x="378.05" y="738.35" width="20.90" height="51.75" fill="#0000ff" stroke="#000" stroke-width="1.5"/>
<line x1="422.90" y1="747.20" x2="422.90" y2="740.10" stroke="#000" stroke-width="0.9"/>
<line x1="420.30" y1="740.10" x2="425.50" y2="740.10" stroke="#000" stroke-width="0.9"/>
<rect x="412.45" y="747.95" width="20.90" height="42.15" fill="#000080" stroke="#000" stroke-width="1.5"/>
<circle cx="316.00" cy="713.10" r="1.35" fill="#fff" stroke="#000" stroke-width="1.1"/>
<circle cx="310.30" cy="726.80" r="1.35" fill="#fff" stroke="#000" stroke-width="1.1"/>
<circle cx="316.00" cy="726.40" r="1.35" fill="#fff" stroke="#000" stroke-width="1.1"/>
<circle cx="321.60" cy="726.80" r="1.35" fill="#fff" stroke="#000" stroke-width="1.1"/>
<circle cx="327.30" cy="726.80" r="1.35" fill="#fff" stroke="#000" stroke-width="1.1"/>
<circle cx="316.00" cy="740.10" r="1.35" fill="#fff" stroke="#000" stroke-width="1.1"/>
<circle cx="350.60" cy="732.30" r="1.35" fill="#fff" stroke="#000" stroke-width="1.1"/>
<circle cx="350.60" cy="736.00" r="1.35" fill="#fff" stroke="#000" stroke-width="1.1"/>
<circle cx="345.10" cy="738.60" r="1.35" fill="#fff" stroke="#000" stroke-width="1.1"/>
<circle cx="356.30" cy="737.60" r="1.35" fill="#fff" stroke="#000" stroke-width="1.1"/>
<circle cx="362.00" cy="736.60" r="1.35" fill="#fff" stroke="#000" stroke-width="1.1"/>
<circle cx="350.60" cy="750.70" r="1.35" fill="#fff" stroke="#000" stroke-width="1.1"/>
<circle cx="388.00" cy="727.40" r="1.35" fill="#fff" stroke="#000" stroke-width="1.1"/>
<circle cx="382.50" cy="732.90" r="1.35" fill="#fff" stroke="#000" stroke-width="1.1"/>
<circle cx="388.00" cy="732.90" r="1.35" fill="#fff" stroke="#000" stroke-width="1.1"/>
<circle cx="394.10" cy="731.90" r="1.35" fill="#fff" stroke="#000" stroke-width="1.1"/>
<circle cx="388.00" cy="740.50" r="1.35" fill="#fff" stroke="#000" stroke-width="1.1"/>
<circle cx="388.00" cy="757.00" r="1.35" fill="#fff" stroke="#000" stroke-width="1.1"/>
<circle cx="422.70" cy="727.20" r="1.35" fill="#fff" stroke="#000" stroke-width="1.1"/>
<circle cx="422.70" cy="733.90" r="1.35" fill="#fff" stroke="#000" stroke-width="1.1"/>
<circle cx="417.00" cy="743.80" r="1.35" fill="#fff" stroke="#000" stroke-width="1.1"/>
<circle cx="422.70" cy="745.20" r="1.35" fill="#fff" stroke="#000" stroke-width="1.1"/>
<circle cx="422.70" cy="760.90" r="1.35" fill="#fff" stroke="#000" stroke-width="1.1"/>
<circle cx="422.70" cy="767.30" r="1.35" fill="#fff" stroke="#000" stroke-width="1.1"/>
<line x1="295.60" y1="694.70" x2="295.60" y2="790.85" stroke="#000" stroke-width="1.5"/>
<line x1="294.85" y1="790.10" x2="446.50" y2="790.10" stroke="#000" stroke-width="1.5"/>
<line x1="291.20" y1="790.10" x2="295.60" y2="790.10" stroke="#000" stroke-width="1.4"/>
<text x="290.80" y="793.45" font-size="9.2" text-anchor="end" font-weight="bold" fill="#000" textLength="12.8" lengthAdjust="spacingAndGlyphs" >0.0</text>
<line x1="291.20" y1="758.30" x2="295.60" y2="758.30" stroke="#000" stroke-width="1.4"/>
<text x="290.80" y="761.65" font-size="9.2" text-anchor="end" font-weight="bold" fill="#000" textLength="12.8" lengthAdjust="spacingAndGlyphs" >0.5</text>
<line x1="291.20" y1="726.50" x2="295.60" y2="726.50" stroke="#000" stroke-width="1.4"/>
<text x="290.80" y="729.85" font-size="9.2" text-anchor="end" font-weight="bold" fill="#000" textLength="12.8" lengthAdjust="spacingAndGlyphs" >1.0</text>
<line x1="291.20" y1="694.70" x2="295.60" y2="694.70" stroke="#000" stroke-width="1.4"/>
<text x="290.80" y="698.05" font-size="9.2" text-anchor="end" font-weight="bold" fill="#000" textLength="12.8" lengthAdjust="spacingAndGlyphs" >1.5</text>
<line x1="319.00" y1="790.10" x2="319.00" y2="793.90" stroke="#000" stroke-width="1"/>
<line x1="353.80" y1="790.10" x2="353.80" y2="793.90" stroke="#000" stroke-width="1"/>
<line x1="388.50" y1="790.10" x2="388.50" y2="793.90" stroke="#000" stroke-width="1"/>
<line x1="422.90" y1="790.10" x2="422.90" y2="793.90" stroke="#000" stroke-width="1"/>
<text x="319.00" y="804.20" font-size="8.8" text-anchor="middle" font-weight="bold" fill="#000" textLength="21" lengthAdjust="spacingAndGlyphs" >Adult</text>
<text x="353.80" y="804.20" font-size="8.8" text-anchor="middle" font-weight="bold" fill="#000" textLength="19.5" lengthAdjust="spacingAndGlyphs" >Aged</text>
<text x="388.50" y="804.20" font-size="8.8" text-anchor="middle" font-weight="bold" fill="#000" textLength="21" lengthAdjust="spacingAndGlyphs" >Adult</text>
<text x="422.90" y="804.20" font-size="8.8" text-anchor="middle" font-weight="bold" fill="#000" textLength="19.5" lengthAdjust="spacingAndGlyphs" >Aged</text>
<line x1="304.40" y1="809.20" x2="364.80" y2="809.20" stroke="#777" stroke-width="1.6"/>
<line x1="374.30" y1="809.20" x2="434.20" y2="809.20" stroke="#777" stroke-width="1.6"/>
<text x="338.10" y="820.00" font-size="8.8" text-anchor="middle" font-weight="bold" fill="#000" textLength="18.5" lengthAdjust="spacingAndGlyphs" >Male</text>
<text x="404.20" y="820.00" font-size="8.8" text-anchor="middle" font-weight="bold" fill="#000" textLength="28" lengthAdjust="spacingAndGlyphs" >Female</text>
<path d="M319.00 703.30 V698.00 H353.80 V703.30" fill="none" stroke="#222" stroke-width="1.1"/>
<text x="336.90" y="697.00" font-size="9.4" text-anchor="middle" font-weight="bold" fill="#000" letter-spacing="0.9">**</text>
<path d="M388.50 703.30 V698.00 H422.90 V703.30" fill="none" stroke="#222" stroke-width="1.1"/>
<text x="406.20" y="697.00" font-size="9.4" text-anchor="middle" font-weight="bold" fill="#000" letter-spacing="0.9">*</text>
<path d="M319.00 684.30 V679.00 H388.50 V684.30" fill="none" stroke="#222" stroke-width="1.1"/>
<text x="353.75" y="674.70" font-size="5.8" text-anchor="middle" font-weight="normal" fill="#444" >ns</text>
<path d="M353.80 666.80 V661.50 H422.90 V666.80" fill="none" stroke="#222" stroke-width="1.1"/>
<text x="388.35" y="657.20" font-size="5.8" text-anchor="middle" font-weight="normal" fill="#444" >ns</text>
<text x="371.30" y="646.90" font-size="8.2" text-anchor="middle" font-weight="bold" fill="#000" >CIV</text>
<text transform="translate(271.90,741.00) rotate(-90)" font-size="9.9" text-anchor="middle" font-weight="bold" textLength="76" lengthAdjust="spacingAndGlyphs">Protein level (RU)</text>
<line x1="555.60" y1="750.90" x2="555.60" y2="748.90" stroke="#000" stroke-width="0.9"/>
<line x1="553.00" y1="748.90" x2="558.20" y2="748.90" stroke="#000" stroke-width="0.9"/>
<rect x="545.15" y="751.65" width="20.90" height="36.45" fill="#ff0000" stroke="#000" stroke-width="1.5"/>
<line x1="590.00" y1="748.00" x2="590.00" y2="740.30" stroke="#000" stroke-width="0.9"/>
<line x1="587.40" y1="740.30" x2="592.60" y2="740.30" stroke="#000" stroke-width="0.9"/>
<rect x="579.55" y="748.75" width="20.90" height="39.35" fill="#a00000" stroke="#000" stroke-width="1.5"/>
<line x1="624.70" y1="744.60" x2="624.70" y2="740.70" stroke="#000" stroke-width="0.9"/>
<line x1="622.10" y1="740.70" x2="627.30" y2="740.70" stroke="#000" stroke-width="0.9"/>
<rect x="614.25" y="745.35" width="20.90" height="42.75" fill="#0000ff" stroke="#000" stroke-width="1.5"/>
<line x1="659.40" y1="733.50" x2="659.40" y2="722.30" stroke="#000" stroke-width="0.9"/>
<line x1="656.80" y1="722.30" x2="662.00" y2="722.30" stroke="#000" stroke-width="0.9"/>
<rect x="648.95" y="734.25" width="20.90" height="53.85" fill="#000080" stroke="#000" stroke-width="1.5"/>
<circle cx="555.40" cy="743.10" r="1.35" fill="#fff" stroke="#000" stroke-width="1.1"/>
<circle cx="549.70" cy="750.30" r="1.35" fill="#fff" stroke="#000" stroke-width="1.1"/>
<circle cx="561.00" cy="749.30" r="1.35" fill="#fff" stroke="#000" stroke-width="1.1"/>
<circle cx="555.40" cy="752.30" r="1.35" fill="#fff" stroke="#000" stroke-width="1.1"/>
<circle cx="561.00" cy="752.30" r="1.35" fill="#fff" stroke="#000" stroke-width="1.1"/>
<circle cx="555.40" cy="756.40" r="1.35" fill="#fff" stroke="#000" stroke-width="1.1"/>
<circle cx="590.00" cy="728.20" r="1.35" fill="#fff" stroke="#000" stroke-width="1.1"/>
<circle cx="590.00" cy="734.60" r="1.35" fill="#fff" stroke="#000" stroke-width="1.1"/>
<circle cx="595.70" cy="733.50" r="1.35" fill="#fff" stroke="#000" stroke-width="1.1"/>
<circle cx="590.00" cy="758.50" r="1.35" fill="#fff" stroke="#000" stroke-width="1.1"/>
<circle cx="584.50" cy="765.20" r="1.35" fill="#fff" stroke="#000" stroke-width="1.1"/>
<circle cx="595.70" cy="763.60" r="1.35" fill="#fff" stroke="#000" stroke-width="1.1"/>
<circle cx="624.50" cy="726.40" r="1.35" fill="#fff" stroke="#000" stroke-width="1.1"/>
<circle cx="624.50" cy="739.00" r="1.35" fill="#fff" stroke="#000" stroke-width="1.1"/>
<circle cx="630.40" cy="738.00" r="1.35" fill="#fff" stroke="#000" stroke-width="1.1"/>
<circle cx="618.80" cy="755.80" r="1.35" fill="#fff" stroke="#000" stroke-width="1.1"/>
<circle cx="624.50" cy="750.70" r="1.35" fill="#fff" stroke="#000" stroke-width="1.1"/>
<circle cx="630.40" cy="754.00" r="1.35" fill="#fff" stroke="#000" stroke-width="1.1"/>
<circle cx="659.00" cy="696.10" r="1.35" fill="#fff" stroke="#000" stroke-width="1.1"/>
<circle cx="659.00" cy="718.60" r="1.35" fill="#fff" stroke="#000" stroke-width="1.1"/>
<circle cx="664.80" cy="716.00" r="1.35" fill="#fff" stroke="#000" stroke-width="1.1"/>
<circle cx="659.00" cy="755.00" r="1.35" fill="#fff" stroke="#000" stroke-width="1.1"/>
<circle cx="664.80" cy="753.00" r="1.35" fill="#fff" stroke="#000" stroke-width="1.1"/>
<circle cx="659.00" cy="760.10" r="1.35" fill="#fff" stroke="#000" stroke-width="1.1"/>
<line x1="532.00" y1="692.70" x2="532.00" y2="788.85" stroke="#000" stroke-width="1.5"/>
<line x1="531.25" y1="788.10" x2="682.90" y2="788.10" stroke="#000" stroke-width="1.5"/>
<line x1="527.60" y1="788.10" x2="532.00" y2="788.10" stroke="#000" stroke-width="1.4"/>
<text x="527.20" y="791.45" font-size="9.2" text-anchor="end" font-weight="bold" fill="#000" textLength="12.8" lengthAdjust="spacingAndGlyphs" >0.0</text>
<line x1="527.60" y1="769.02" x2="532.00" y2="769.02" stroke="#000" stroke-width="1.4"/>
<text x="527.20" y="772.37" font-size="9.2" text-anchor="end" font-weight="bold" fill="#000" textLength="12.8" lengthAdjust="spacingAndGlyphs" >0.5</text>
<line x1="527.60" y1="749.94" x2="532.00" y2="749.94" stroke="#000" stroke-width="1.4"/>
<text x="527.20" y="753.29" font-size="9.2" text-anchor="end" font-weight="bold" fill="#000" textLength="12.8" lengthAdjust="spacingAndGlyphs" >1.0</text>
<line x1="527.60" y1="730.86" x2="532.00" y2="730.86" stroke="#000" stroke-width="1.4"/>
<text x="527.20" y="734.21" font-size="9.2" text-anchor="end" font-weight="bold" fill="#000" textLength="12.8" lengthAdjust="spacingAndGlyphs" >1.5</text>
<line x1="527.60" y1="711.78" x2="532.00" y2="711.78" stroke="#000" stroke-width="1.4"/>
<text x="527.20" y="715.13" font-size="9.2" text-anchor="end" font-weight="bold" fill="#000" textLength="12.8" lengthAdjust="spacingAndGlyphs" >2.0</text>
<line x1="527.60" y1="692.70" x2="532.00" y2="692.70" stroke="#000" stroke-width="1.4"/>
<text x="527.20" y="696.05" font-size="9.2" text-anchor="end" font-weight="bold" fill="#000" textLength="12.8" lengthAdjust="spacingAndGlyphs" >2.5</text>
<line x1="555.60" y1="788.10" x2="555.60" y2="791.90" stroke="#000" stroke-width="1"/>
<line x1="590.00" y1="788.10" x2="590.00" y2="791.90" stroke="#000" stroke-width="1"/>
<line x1="624.70" y1="788.10" x2="624.70" y2="791.90" stroke="#000" stroke-width="1"/>
<line x1="659.40" y1="788.10" x2="659.40" y2="791.90" stroke="#000" stroke-width="1"/>
<text x="555.60" y="802.20" font-size="8.8" text-anchor="middle" font-weight="bold" fill="#000" textLength="21" lengthAdjust="spacingAndGlyphs" >Adult</text>
<text x="590.00" y="802.20" font-size="8.8" text-anchor="middle" font-weight="bold" fill="#000" textLength="19.5" lengthAdjust="spacingAndGlyphs" >Aged</text>
<text x="624.70" y="802.20" font-size="8.8" text-anchor="middle" font-weight="bold" fill="#000" textLength="21" lengthAdjust="spacingAndGlyphs" >Adult</text>
<text x="659.40" y="802.20" font-size="8.8" text-anchor="middle" font-weight="bold" fill="#000" textLength="19.5" lengthAdjust="spacingAndGlyphs" >Aged</text>
<line x1="540.80" y1="806.50" x2="601.20" y2="806.50" stroke="#333" stroke-width="1.6"/>
<line x1="610.70" y1="806.50" x2="670.60" y2="806.50" stroke="#333" stroke-width="1.6"/>
<text x="571.00" y="818.00" font-size="8.8" text-anchor="middle" font-weight="bold" fill="#000" textLength="18.5" lengthAdjust="spacingAndGlyphs" >Male</text>
<text x="640.60" y="818.00" font-size="8.8" text-anchor="middle" font-weight="bold" fill="#000" textLength="28" lengthAdjust="spacingAndGlyphs" >Female</text>
<path d="M555.60 709.10 V703.80 H590.00 V709.10" fill="none" stroke="#222" stroke-width="1.1"/>
<text x="572.80" y="699.50" font-size="5.8" text-anchor="middle" font-weight="normal" fill="#444" >ns</text>
<path d="M624.70 709.10 V703.80 H659.40 V709.10" fill="none" stroke="#222" stroke-width="1.1"/>
<text x="642.05" y="699.50" font-size="5.8" text-anchor="middle" font-weight="normal" fill="#444" >ns</text>
<path d="M555.60 691.00 V685.70 H624.70 V691.00" fill="none" stroke="#222" stroke-width="1.1"/>
<text x="590.15" y="681.40" font-size="5.8" text-anchor="middle" font-weight="normal" fill="#444" >ns</text>
<path d="M590.00 673.20 V667.90 H659.40 V673.20" fill="none" stroke="#222" stroke-width="1.1"/>
<text x="624.70" y="663.60" font-size="5.8" text-anchor="middle" font-weight="normal" fill="#444" >ns</text>
<text x="607.20" y="649.80" font-size="8.2" text-anchor="middle" font-weight="bold" fill="#000" >CV</text>
<text transform="translate(508.30,737.00) rotate(-90)" font-size="9.9" text-anchor="middle" font-weight="bold" textLength="83" lengthAdjust="spacingAndGlyphs">Protein level (RU)</text>
<text x="126.20" y="223.30" font-size="9.4" text-anchor="middle" font-weight="bold" fill="#000" textLength="179.7" lengthAdjust="spacingAndGlyphs" >Isolated mitochondrial-enriched fraction</text>
<text x="126.50" y="235.20" font-size="9.4" text-anchor="middle" font-weight="bold" fill="#000" >+</text>
<text x="126.20" y="246.30" font-size="9.4" text-anchor="middle" font-weight="bold" fill="#000" textLength="92" lengthAdjust="spacingAndGlyphs" >Oxidative substrates</text>
<rect x="2.6" y="273" width="238" height="118" fill="#fdfbfa"/>
<rect x="3.6" y="274.5" width="180.2" height="24.8" fill="#faf1ef"/>
<rect x="194" y="274.5" width="49" height="106.3" fill="#f8eeec" opacity="0.6"/>
<rect x="3" y="312" width="237" height="19.4" fill="#fdf8f8"/>
<path d="M3.7 313 L3.7 320.5 M5.5 313 L5.5 320.5 M3.7 330 L3.7 322.5 M5.5 330 L5.5 322.5 M7.9 313 L7.9 320.5 M9.7 313 L9.7 320.5 M7.9 330 L7.9 322.5 M9.7 330 L9.7 322.5 M12.1 313 L12.1 320.5 M13.9 313 L13.9 320.5 M12.1 330 L12.1 322.5 M13.9 330 L13.9 322.5 M16.3 313 L16.3 320.5 M18.1 313 L18.1 320.5 M16.3 330 L16.3 322.5 M18.1 330 L18.1 322.5 M20.5 313 L20.5 320.5 M22.3 313 L22.3 320.5 M20.5 330 L20.5 322.5 M22.3 330 L22.3 322.5 M24.7 313 L24.7 320.5 M26.5 313 L26.5 320.5 M24.7 330 L24.7 322.5 M26.5 330 L26.5 322.5 M28.9 313 L28.9 320.5 M30.7 313 L30.7 320.5 M28.9 330 L28.9 322.5 M30.7 330 L30.7 322.5 M33.1 313 L33.1 320.5 M34.9 313 L34.9 320.5 M33.1 330 L33.1 322.5 M34.9 330 L34.9 322.5 M37.3 313 L37.3 320.5 M39.1 313 L39.1 320.5 M37.3 330 L37.3 322.5 M39.1 330 L39.1 322.5 M41.5 313 L41.5 320.5 M43.3 313 L43.3 320.5 M41.5 330 L41.5 322.5 M43.3 330 L43.3 322.5 M45.7 313 L45.7 320.5 M47.5 313 L47.5 320.5 M45.7 330 L45.7 322.5 M47.5 330 L47.5 322.5 M49.9 313 L49.9 320.5 M51.7 313 L51.7 320.5 M49.9 330 L49.9 322.5 M51.7 330 L51.7 322.5 M54.1 313 L54.1 320.5 M55.9 313 L55.9 320.5 M54.1 330 L54.1 322.5 M55.9 330 L55.9 322.5 M58.3 313 L58.3 320.5 M60.1 313 L60.1 320.5 M58.3 330 L58.3 322.5 M60.1 330 L60.1 322.5 M62.5 313 L62.5 320.5 M64.3 313 L64.3 320.5 M62.5 330 L62.5 322.5 M64.3 330 L64.3 322.5 M66.7 313 L66.7 320.5 M68.5 313 L68.5 320.5 M66.7 330 L66.7 322.5 M68.5 330 L68.5 322.5 M70.9 313 L70.9 320.5 M72.7 313 L72.7 320.5 M70.9 330 L70.9 322.5 M72.7 330 L72.7 322.5 M75.1 313 L75.1 320.5 M76.9 313 L76.9 320.5 M75.1 330 L75.1 322.5 M76.9 330 L76.9 322.5 M79.3 313 L79.3 320.5 M81.1 313 L81.1 320.5 M79.3 330 L79.3 322.5 M81.1 330 L81.1 322.5 M83.5 313 L83.5 320.5 M85.3 313 L85.3 320.5 M83.5 330 L83.5 322.5 M85.3 330 L85.3 322.5 M87.7 313 L87.7 320.5 M89.5 313 L89.5 320.5 M87.7 330 L87.7 322.5 M89.5 330 L89.5 322.5 M91.9 313 L91.9 320.5 M93.7 313 L93.7 320.5 M91.9 330 L91.9 322.5 M93.7 330 L93.7 322.5 M96.1 313 L96.1 320.5 M97.9 313 L97.9 320.5 M96.1 330 L96.1 322.5 M97.9 330 L97.9 322.5 M100.3 313 L100.3 320.5 M102.1 313 L102.1 320.5 M100.3 330 L100.3 322.5 M102.1 330 L102.1 322.5 M104.5 313 L104.5 320.5 M106.3 313 L106.3 320.5 M104.5 330 L104.5 322.5 M106.3 330 L106.3 322.5 M108.7 313 L108.7 320.5 M110.5 313 L110.5 320.5 M108.7 330 L108.7 322.5 M110.5 330 L110.5 322.5 M112.9 313 L112.9 320.5 M114.7 313 L114.7 320.5 M112.9 330 L112.9 322.5 M114.7 330 L114.7 322.5 M117.1 313 L117.1 320.5 M118.9 313 L118.9 320.5 M117.1 330 L117.1 322.5 M118.9 330 L118.9 322.5 M121.3 313 L121.3 320.5 M123.1 313 L123.1 320.5 M121.3 330 L121.3 322.5 M123.1 330 L123.1 322.5 M125.5 313 L125.5 320.5 M127.3 313 L127.3 320.5 M125.5 330 L125.5 322.5 M127.3 330 L127.3 322.5 M129.7 313 L129.7 320.5 M131.5 313 L131.5 320.5 M129.7 330 L129.7 322.5 M131.5 330 L131.5 322.5 M133.9 313 L133.9 320.5 M135.7 313 L135.7 320.5 M133.9 330 L133.9 322.5 M135.7 330 L135.7 322.5 M138.1 313 L138.1 320.5 M139.9 313 L139.9 320.5 M138.1 330 L138.1 322.5 M139.9 330 L139.9 322.5 M142.3 313 L142.3 320.5 M144.1 313 L144.1 320.5 M142.3 330 L142.3 322.5 M144.1 330 L144.1 322.5 M146.5 313 L146.5 320.5 M148.3 313 L148.3 320.5 M146.5 330 L146.5 322.5 M148.3 330 L148.3 322.5 M150.7 313 L150.7 320.5 M152.5 313 L152.5 320.5 M150.7 330 L150.7 322.5 M152.5 330 L152.5 322.5 M154.9 313 L154.9 320.5 M156.7 313 L156.7 320.5 M154.9 330 L154.9 322.5 M156.7 330 L156.7 322.5 M159.1 313 L159.1 320.5 M160.9 313 L160.9 320.5 M159.1 330 L159.1 322.5 M160.9 330 L160.9 322.5 M163.3 313 L163.3 320.5 M165.1 313 L165.1 320.5 M163.3 330 L163.3 322.5 M165.1 330 L165.1 322.5 M167.5 313 L167.5 320.5 M169.3 313 L169.3 320.5 M167.5 330 L167.5 322.5 M169.3 330 L169.3 322.5 M171.7 313 L171.7 320.5 M173.5 313 L173.5 320.5 M171.7 330 L171.7 322.5 M173.5 330 L173.5 322.5 M175.9 313 L175.9 320.5 M177.7 313 L177.7 320.5 M175.9 330 L175.9 322.5 M177.7 330 L177.7 322.5 M180.1 313 L180.1 320.5 M181.9 313 L181.9 320.5 M180.1 330 L180.1 322.5 M181.9 330 L181.9 322.5 M184.3 313 L184.3 320.5 M186.1 313 L186.1 320.5 M184.3 330 L184.3 322.5 M186.1 330 L186.1 322.5 M188.5 313 L188.5 320.5 M190.3 313 L190.3 320.5 M188.5 330 L188.5 322.5 M190.3 330 L190.3 322.5 M192.7 313 L192.7 320.5 M194.5 313 L194.5 320.5 M192.7 330 L192.7 322.5 M194.5 330 L194.5 322.5 M196.9 313 L196.9 320.5 M198.7 313 L198.7 320.5 M196.9 330 L196.9 322.5 M198.7 330 L198.7 322.5 M201.1 313 L201.1 320.5 M202.9 313 L202.9 320.5 M201.1 330 L201.1 322.5 M202.9 330 L202.9 322.5 M205.3 313 L205.3 320.5 M207.1 313 L207.1 320.5 M205.3 330 L205.3 322.5 M207.1 330 L207.1 322.5 M209.5 313 L209.5 320.5 M211.3 313 L211.3 320.5 M209.5 330 L209.5 322.5 M211.3 330 L211.3 322.5 M213.7 313 L213.7 320.5 M215.5 313 L215.5 320.5 M213.7 330 L213.7 322.5 M215.5 330 L215.5 322.5 M217.9 313 L217.9 320.5 M219.7 313 L219.7 320.5 M217.9 330 L217.9 322.5 M219.7 330 L219.7 322.5 M222.1 313 L222.1 320.5 M223.9 313 L223.9 320.5 M222.1 330 L222.1 322.5 M223.9 330 L223.9 322.5 M226.3 313 L226.3 320.5 M228.1 313 L228.1 320.5 M226.3 330 L226.3 322.5 M228.1 330 L228.1 322.5 M230.5 313 L230.5 320.5 M232.3 313 L232.3 320.5 M230.5 330 L230.5 322.5 M232.3 330 L232.3 322.5 M234.7 313 L234.7 320.5 M236.5 313 L236.5 320.5 M234.7 330 L234.7 322.5 M236.5 330 L236.5 322.5 M238.9 313 L238.9 320.5 M240.7 313 L240.7 320.5 M238.9 330 L238.9 322.5 M240.7 330 L240.7 322.5" stroke="#ecd0ce" stroke-width="0.6" fill="none"/>
<g fill="#b38a84"><circle cx="4.60" cy="311.8" r="1.6"/><circle cx="4.60" cy="331.2" r="1.6"/><circle cx="8.80" cy="311.8" r="1.6"/><circle cx="8.80" cy="331.2" r="1.6"/><circle cx="13.00" cy="311.8" r="1.6"/><circle cx="13.00" cy="331.2" r="1.6"/><circle cx="17.20" cy="311.8" r="1.6"/><circle cx="17.20" cy="331.2" r="1.6"/><circle cx="21.40" cy="311.8" r="1.6"/><circle cx="21.40" cy="331.2" r="1.6"/><circle cx="25.60" cy="311.8" r="1.6"/><circle cx="25.60" cy="331.2" r="1.6"/><circle cx="29.80" cy="311.8" r="1.6"/><circle cx="29.80" cy="331.2" r="1.6"/><circle cx="34.00" cy="311.8" r="1.6"/><circle cx="34.00" cy="331.2" r="1.6"/><circle cx="38.20" cy="311.8" r="1.6"/><circle cx="38.20" cy="331.2" r="1.6"/><circle cx="42.40" cy="311.8" r="1.6"/><circle cx="42.40" cy="331.2" r="1.6"/><circle cx="46.60" cy="311.8" r="1.6"/><circle cx="46.60" cy="331.2" r="1.6"/><circle cx="50.80" cy="311.8" r="1.6"/><circle cx="50.80" cy="331.2" r="1.6"/><circle cx="55.00" cy="311.8" r="1.6"/><circle cx="55.00" cy="331.2" r="1.6"/><circle cx="59.20" cy="311.8" r="1.6"/><circle cx="59.20" cy="331.2" r="1.6"/><circle cx="63.40" cy="311.8" r="1.6"/><circle cx="63.40" cy="331.2" r="1.6"/><circle cx="67.60" cy="311.8" r="1.6"/><circle cx="67.60" cy="331.2" r="1.6"/><circle cx="71.80" cy="311.8" r="1.6"/><circle cx="71.80" cy="331.2" r="1.6"/><circle cx="76.00" cy="311.8" r="1.6"/><circle cx="76.00" cy="331.2" r="1.6"/><circle cx="80.20" cy="311.8" r="1.6"/><circle cx="80.20" cy="331.2" r="1.6"/><circle cx="84.40" cy="311.8" r="1.6"/><circle cx="84.40" cy="331.2" r="1.6"/><circle cx="88.60" cy="311.8" r="1.6"/><circle cx="88.60" cy="331.2" r="1.6"/><circle cx="92.80" cy="311.8" r="1.6"/><circle cx="92.80" cy="331.2" r="1.6"/><circle cx="97.00" cy="311.8" r="1.6"/><circle cx="97.00" cy="331.2" r="1.6"/><circle cx="101.20" cy="311.8" r="1.6"/><circle cx="101.20" cy="331.2" r="1.6"/><circle cx="105.40" cy="311.8" r="1.6"/><circle cx="105.40" cy="331.2" r="1.6"/><circle cx="109.60" cy="311.8" r="1.6"/><circle cx="109.60" cy="331.2" r="1.6"/><circle cx="113.80" cy="311.8" r="1.6"/><circle cx="113.80" cy="331.2" r="1.6"/><circle cx="118.00" cy="311.8" r="1.6"/><circle cx="118.00" cy="331.2" r="1.6"/><circle cx="122.20" cy="311.8" r="1.6"/><circle cx="122.20" cy="331.2" r="1.6"/><circle cx="126.40" cy="311.8" r="1.6"/><circle cx="126.40" cy="331.2" r="1.6"/><circle cx="130.60" cy="311.8" r="1.6"/><circle cx="130.60" cy="331.2" r="1.6"/><circle cx="134.80" cy="311.8" r="1.6"/><circle cx="134.80" cy="331.2" r="1.6"/><circle cx="139.00" cy="311.8" r="1.6"/><circle cx="139.00" cy="331.2" r="1.6"/><circle cx="143.20" cy="311.8" r="1.6"/><circle cx="143.20" cy="331.2" r="1.6"/><circle cx="147.40" cy="311.8" r="1.6"/><circle cx="147.40" cy="331.2" r="1.6"/><circle cx="151.60" cy="311.8" r="1.6"/><circle cx="151.60" cy="331.2" r="1.6"/><circle cx="155.80" cy="311.8" r="1.6"/><circle cx="155.80" cy="331.2" r="1.6"/><circle cx="160.00" cy="311.8" r="1.6"/><circle cx="160.00" cy="331.2" r="1.6"/><circle cx="164.20" cy="311.8" r="1.6"/><circle cx="164.20" cy="331.2" r="1.6"/><circle cx="168.40" cy="311.8" r="1.6"/><circle cx="168.40" cy="331.2" r="1.6"/><circle cx="172.60" cy="311.8" r="1.6"/><circle cx="172.60" cy="331.2" r="1.6"/><circle cx="176.80" cy="311.8" r="1.6"/><circle cx="176.80" cy="331.2" r="1.6"/><circle cx="181.00" cy="311.8" r="1.6"/><circle cx="181.00" cy="331.2" r="1.6"/><circle cx="185.20" cy="311.8" r="1.6"/><circle cx="185.20" cy="331.2" r="1.6"/><circle cx="189.40" cy="311.8" r="1.6"/><circle cx="189.40" cy="331.2" r="1.6"/><circle cx="193.60" cy="311.8" r="1.6"/><circle cx="193.60" cy="331.2" r="1.6"/><circle cx="197.80" cy="311.8" r="1.6"/><circle cx="197.80" cy="331.2" r="1.6"/><circle cx="202.00" cy="311.8" r="1.6"/><circle cx="202.00" cy="331.2" r="1.6"/><circle cx="206.20" cy="311.8" r="1.6"/><circle cx="206.20" cy="331.2" r="1.6"/><circle cx="210.40" cy="311.8" r="1.6"/><circle cx="210.40" cy="331.2" r="1.6"/><circle cx="214.60" cy="311.8" r="1.6"/><circle cx="214.60" cy="331.2" r="1.6"/><circle cx="218.80" cy="311.8" r="1.6"/><circle cx="218.80" cy="331.2" r="1.6"/><circle cx="223.00" cy="311.8" r="1.6"/><circle cx="223.00" cy="331.2" r="1.6"/><circle cx="227.20" cy="311.8" r="1.6"/><circle cx="227.20" cy="331.2" r="1.6"/><circle cx="231.40" cy="311.8" r="1.6"/><circle cx="231.40" cy="331.2" r="1.6"/><circle cx="235.60" cy="311.8" r="1.6"/><circle cx="235.60" cy="331.2" r="1.6"/><circle cx="239.80" cy="311.8" r="1.6"/><circle cx="239.80" cy="331.2" r="1.6"/></g>
<g fill="#6e9fd2" opacity="1"><rect x="21.60" y="289.00" width="3.6" height="13.00"/><path d="M19.00 293.50 L23.40 284.00 L27.80 293.50 Z"/></g>
<g fill="#6e9fd2" opacity="1"><rect x="90.70" y="289.00" width="3.6" height="13.00"/><path d="M88.10 293.50 L92.50 284.00 L96.90 293.50 Z"/></g>
<g fill="#6e9fd2" opacity="1"><rect x="157.40" y="289.00" width="3.6" height="13.00"/><path d="M154.80 293.50 L159.20 284.00 L163.60 293.50 Z"/></g>
<rect x="215.8" y="281" width="4.4" height="15" fill="url(#glowup)"/>
<rect x="21.4" y="338" width="4" height="10" fill="url(#glow)"/>
<rect x="90.5" y="338" width="4" height="10" fill="url(#glow)"/>
<rect x="157.2" y="338" width="4" height="10" fill="url(#glow)"/>
<text x="23.40" y="281.50" font-size="4.0" text-anchor="middle" font-weight="bold" fill="#2f5f9a" >4H⁺</text>
<text x="92.50" y="281.50" font-size="4.0" text-anchor="middle" font-weight="bold" fill="#2f5f9a" >4H⁺</text>
<text x="159.20" y="281.50" font-size="4.0" text-anchor="middle" font-weight="bold" fill="#2f5f9a" >2H⁺</text>
<text x="218.00" y="281.50" font-size="4.0" text-anchor="middle" font-weight="bold" fill="#2f5f9a" >nH⁺</text>
<rect x="12.4" y="302.2" width="23.8" height="36.5" rx="6" fill="#f3d7e4" stroke="#b28aa0" stroke-width="0.6"/>
<text x="23.40" y="309.00" font-size="3.8" text-anchor="middle" font-weight="bold" fill="#555" >I</text>
<rect x="43.8" y="315.4" width="35" height="24.8" rx="9" fill="#c9cdea" stroke="#7d82ad" stroke-width="0.6"/>
<text x="50.40" y="325.00" font-size="3.8" text-anchor="middle" font-weight="bold" fill="#555" >II</text>
<ellipse cx="72.3" cy="309.5" rx="6.6" ry="4.3" fill="#dae8f6" stroke="#7d99bd" stroke-width="0.5"/>
<text x="72.30" y="304.00" font-size="3.6" text-anchor="middle" font-weight="bold" fill="#555" >CoQ</text>
<rect x="83.5" y="301.1" width="19" height="36.9" rx="7" fill="#d6edf5" stroke="#6ea0b4" stroke-width="0.6"/>
<text x="92.50" y="309.00" font-size="3.8" text-anchor="middle" font-weight="bold" fill="#555" >III</text>
<ellipse cx="124.2" cy="310.3" rx="14.5" ry="8.6" fill="#edd7f1" stroke="#a07cab" stroke-width="0.6"/>
<text x="124.20" y="307.50" font-size="3.8" text-anchor="middle" font-weight="bold" fill="#444" >Cyt c</text>
<path d="M149 301.1 H168 Q171 301.1 171 305 V318 Q176 324 176.4 332 Q176.4 339 170 338.5 Q164 338 162 334 Q159 331 156 334 Q154 338 148 338.5 Q141.8 339 141.8 332 Q142.5 324 146 318 V305 Q146 301.1 149 301.1 Z" fill="#d5d5f1" stroke="#8a8ac0" stroke-width="0.6"/>
<text x="158.70" y="318.60" font-size="3.8" text-anchor="middle" font-weight="bold" fill="#555" >IV</text>
<path d="M210 294.8 Q218 293.2 226 294.8 Q231.5 296.5 231.5 305 Q231.5 314 230 320 Q234.8 328 234.8 336.5 Q234.8 346 218 346 Q201.2 346 201.2 336.5 Q201.2 328 206 320 Q204.5 314 204.5 305 Q204.5 296.5 210 294.8 Z" fill="#d8edcf" stroke="#6f8f60" stroke-width="0.6"/>
<text x="218.20" y="320.00" font-size="3.8" text-anchor="middle" font-weight="bold" fill="#333" >ATP</text>
<text x="218.20" y="324.20" font-size="3.8" text-anchor="middle" font-weight="bold" fill="#333" >synthase</text>
<g fill="#6e9fd2"><rect x="216.3" y="346" width="3.6" height="7"/><path d="M213.8 352 L218.1 358.6 L222.4 352 Z"/></g>
<rect x="197.1" y="360.6" width="18.9" height="9.5" rx="4.75" fill="#e3f1ef" stroke="#5f8f88" stroke-width="0.6"/>
<text x="206.50" y="366.80" font-size="3.6" text-anchor="middle" font-weight="normal" fill="#555" >ADP</text>
<rect x="220.8" y="360.6" width="19.2" height="9.5" rx="4.75" fill="#2b6f66"/>
<text x="230.40" y="366.80" font-size="3.6" text-anchor="middle" font-weight="normal" fill="#e8f2f0" >ATP</text>
<path d="M207 359 Q209 347 219 346.8 Q227 347 229.8 355" fill="none" stroke="#333" stroke-width="0.6"/><path d="M228.4 354.6 L230.2 357.4 L231.2 354.2 Z" fill="#333"/>
<circle cx="22.9" cy="323" r="3.6" fill="#fbf1bf" stroke="#b9a86a" stroke-width="0.5"/>
<text x="22.90" y="324.20" font-size="3.2" text-anchor="middle" font-weight="normal" fill="#555" >2e⁻</text>
<circle cx="60.6" cy="323" r="3.6" fill="#fbf1bf" stroke="#b9a86a" stroke-width="0.5"/>
<text x="60.60" y="324.20" font-size="3.2" text-anchor="middle" font-weight="normal" fill="#555" >2e⁻</text>
<circle cx="153" cy="355.1" r="3.6" fill="#fbf1bf" stroke="#b9a86a" stroke-width="0.5"/>
<text x="153.00" y="356.30" font-size="3.2" text-anchor="middle" font-weight="normal" fill="#555" >2e⁻</text>
<path d="M26 317 Q30 306 45 306 Q70 306 90 309.5 Q115 311.5 135 311 Q148 312 152 322 L153 349.5" fill="none" stroke="#333" stroke-width="0.6"/><path d="M151.6 348.5 L153 351.2 L154.4 348.5 Z" fill="#333"/>
<path d="M26 345 Q27 335 23.5 328" fill="none" stroke="#333" stroke-width="0.5"/><path d="M22.3 329.5 L23.3 326.8 L24.9 329.2 Z" fill="#333"/>
<path d="M63.5 323.5 Q69 322 70 314.5" fill="none" stroke="#333" stroke-width="0.5"/><path d="M68.8 315.8 L70.1 313.2 L71.3 315.9 Z" fill="#333"/>
<path d="M15 348 Q20 338 26 338 Q31 338 33 344" fill="none" stroke="#333" stroke-width="0.6"/><path d="M31.3 343 L33.6 346.2 L34.4 342.6 Z" fill="#333"/>
<path d="M53 348 Q58 338 64 338 Q69 338 71 344" fill="none" stroke="#333" stroke-width="0.6"/><path d="M69.3 343 L71.6 346.2 L72.4 342.6 Z" fill="#333"/>
<path d="M66 331.5 Q60 327 55.5 331" fill="none" stroke="#333" stroke-width="0.5"/><path d="M56.6 330.2 L54.8 332.2 L57.5 332.1 Z" fill="#333"/>
<text x="15.30" y="353.80" font-size="4.1" text-anchor="middle" font-weight="normal" fill="#555" >NADH</text>
<text x="32.00" y="353.80" font-size="4.1" text-anchor="middle" font-weight="normal" fill="#555" >NAD⁺</text>
<text x="51.80" y="353.80" font-size="4.1" text-anchor="middle" font-weight="normal" fill="#555" >Succinate</text>
<text x="74.20" y="353.80" font-size="4.1" text-anchor="middle" font-weight="normal" fill="#555" >Fumarate</text>
<text x="54.00" y="336.30" font-size="4.1" text-anchor="middle" font-weight="normal" fill="#555" >FAD</text>
<text x="67.40" y="336.30" font-size="4.1" text-anchor="middle" font-weight="normal" fill="#555" >FADH₂</text>
<text x="32.00" y="358.60" font-size="4.0" text-anchor="middle" font-weight="normal" fill="#555" >+ <tspan fill="#3a6fb0" font-weight="bold">2H⁺</tspan></text>
<text x="75.50" y="358.60" font-size="4.0" text-anchor="middle" font-weight="normal" fill="#555" >+ <tspan fill="#3a6fb0" font-weight="bold">2H⁺</tspan></text>
<path d="M118 350 H116.8 V360.5 H118" fill="none" stroke="#444" stroke-width="0.6"/>
<path d="M177 350 H178.2 V360.5 H177" fill="none" stroke="#444" stroke-width="0.6"/>
<text x="119.50" y="356.40" font-size="3.5" text-anchor="start" font-weight="normal" fill="#555" ><tspan fill="#3a6fb0" font-weight="bold">2H⁺</tspan> + 1/2O₂ +</text>
<path d="M157.5 355.1 H165" stroke="#444" stroke-width="0.5"/>
<text x="166.00" y="356.40" font-size="3.5" text-anchor="start" font-weight="normal" fill="#555" >H₂O</text>
<text x="179.50" y="356.40" font-size="3.5" text-anchor="start" font-weight="normal" fill="#555" >x 2</text>
<path d="M9.3 370.9 V376.2 H186.9 V370.5 M99 376.2 V378.8" fill="none" stroke="#555" stroke-width="0.6"/>
<text x="99.50" y="385.10" font-size="4.3" text-anchor="middle" font-weight="normal" fill="#444" >Electron Transport Chain</text>
<rect x="3.6" y="274.5" width="180.2" height="24.8" fill="none" stroke="#ff0000" stroke-width="3"/>
<rect x="194" y="274.5" width="49" height="106.3" fill="none" stroke="#ff0000" stroke-width="3.1"/>
<text x="171.30" y="269.30" font-size="10.2" text-anchor="start" font-weight="bold" fill="#ff0000" textLength="9.4" lengthAdjust="spacingAndGlyphs" >E.</text>
<text x="233.80" y="269.30" font-size="10.2" text-anchor="start" font-weight="bold" fill="#ff0000" textLength="8.3" lengthAdjust="spacingAndGlyphs" >F.</text>
<text x="84.40" y="431.90" font-size="9.6" text-anchor="middle" font-weight="bold" fill="#000" textLength="22.8" lengthAdjust="spacingAndGlyphs" >Male</text>
<text x="186.50" y="431.90" font-size="9.6" text-anchor="middle" font-weight="bold" fill="#000" textLength="33.6" lengthAdjust="spacingAndGlyphs" >Female</text>
<line x1="35.6" y1="437.7" x2="132.8" y2="437.7" stroke="#111" stroke-width="1.3"/>
<line x1="138.0" y1="437.7" x2="234.3" y2="437.7" stroke="#111" stroke-width="1.3"/>
<text x="59.30" y="451.90" font-size="9.6" text-anchor="middle" font-weight="bold" fill="#000" textLength="24.9" lengthAdjust="spacingAndGlyphs" >Adult</text>
<text x="110.90" y="451.90" font-size="9.6" text-anchor="middle" font-weight="bold" fill="#000" textLength="22.9" lengthAdjust="spacingAndGlyphs" >Aged</text>
<text x="161.50" y="451.90" font-size="9.6" text-anchor="middle" font-weight="bold" fill="#000" textLength="24.9" lengthAdjust="spacingAndGlyphs" >Adult</text>
<text x="211.80" y="451.90" font-size="9.6" text-anchor="middle" font-weight="bold" fill="#000" textLength="22.9" lengthAdjust="spacingAndGlyphs" >Aged</text>
<line x1="35.6" y1="457.1" x2="83.3" y2="457.1" stroke="#111" stroke-width="1.3"/>
<line x1="89.1" y1="457.1" x2="132.8" y2="457.1" stroke="#111" stroke-width="1.3"/>
<line x1="138.2" y1="457.1" x2="182.7" y2="457.1" stroke="#111" stroke-width="1.3"/>
<line x1="188.9" y1="457.1" x2="234.3" y2="457.1" stroke="#111" stroke-width="1.3"/>
<text x="1.30" y="460.00" font-size="9.8" text-anchor="start" font-weight="bold" fill="#000" textLength="17.2" lengthAdjust="spacingAndGlyphs" >kDa</text>
<rect x="28.6" y="462.7" width="218.2" height="126.2" fill="#c9c9c9" stroke="#2a2a2a" stroke-width="1.4"/>
<rect x="28.6" y="592.9" width="218.2" height="22.6" fill="#d8d8d8" stroke="#2a2a2a" stroke-width="1.4"/>
<line x1="21" y1="479.20" x2="28.2" y2="479.20" stroke="#000" stroke-width="1.9"/>
<text x="16.40" y="483.00" font-size="10.0" text-anchor="end" font-weight="bold" fill="#000" textLength="11.0" lengthAdjust="spacingAndGlyphs" >55</text>
<line x1="21" y1="491.10" x2="28.2" y2="491.10" stroke="#000" stroke-width="1.9"/>
<text x="16.40" y="494.90" font-size="10.0" text-anchor="end" font-weight="bold" fill="#000" textLength="11.0" lengthAdjust="spacingAndGlyphs" >48</text>
<line x1="21" y1="521.30" x2="28.2" y2="521.30" stroke="#000" stroke-width="1.9"/>
<text x="16.40" y="525.10" font-size="10.0" text-anchor="end" font-weight="bold" fill="#000" textLength="11.0" lengthAdjust="spacingAndGlyphs" >35</text>
<line x1="21" y1="553.60" x2="28.2" y2="553.60" stroke="#000" stroke-width="1.9"/>
<text x="16.40" y="557.40" font-size="10.0" text-anchor="end" font-weight="bold" fill="#000" textLength="11.0" lengthAdjust="spacingAndGlyphs" >20</text>
<line x1="21" y1="570.00" x2="28.2" y2="570.00" stroke="#000" stroke-width="1.9"/>
<text x="16.40" y="573.80" font-size="10.0" text-anchor="end" font-weight="bold" fill="#000" textLength="11.0" lengthAdjust="spacingAndGlyphs" >17</text>
<line x1="21" y1="603.50" x2="28.2" y2="603.50" stroke="#000" stroke-width="1.9"/>
<text x="16.40" y="607.30" font-size="10.0" text-anchor="end" font-weight="bold" fill="#000" textLength="11.0" lengthAdjust="spacingAndGlyphs" >35</text>
<text x="252.30" y="481.50" font-size="10.4" text-anchor="start" font-weight="bold" fill="#000" textLength="12.1" lengthAdjust="spacingAndGlyphs" >CV</text>
<text x="252.30" y="495.10" font-size="10.4" text-anchor="start" font-weight="bold" fill="#000" textLength="14.1" lengthAdjust="spacingAndGlyphs" >CIII</text>
<text x="252.30" y="532.60" font-size="10.4" text-anchor="start" font-weight="bold" fill="#000" textLength="12.0" lengthAdjust="spacingAndGlyphs" >CII</text>
<text x="252.30" y="561.50" font-size="10.4" text-anchor="start" font-weight="bold" fill="#000" textLength="14.6" lengthAdjust="spacingAndGlyphs" >CIV</text>
<text x="252.30" y="577.50" font-size="10.4" text-anchor="start" font-weight="bold" fill="#000" textLength="9.5" lengthAdjust="spacingAndGlyphs" >CI</text>
<text x="252.30" y="609.40" font-size="10.4" text-anchor="start" font-weight="bold" fill="#000" textLength="33.2" lengthAdjust="spacingAndGlyphs" >GAPDH</text>
<g filter="url(#bl)">
<rect x="40.30" y="478.20" width="13" height="3.0" rx="1.3" fill="#000" opacity="0.08"/>
<rect x="39.80" y="489.80" width="14" height="4.6" rx="2" fill="#000" opacity="0.66"/>
<rect x="40.10" y="526.10" width="6.70" height="4.20" rx="1.91" fill="#000" opacity="0.62"/><rect x="47.40" y="526.10" width="6.10" height="4.20" rx="1.91" fill="#000" opacity="0.62"/><rect x="41.10" y="527.15" width="11.40" height="2.10" fill="#000" opacity="0.31"/>
<rect x="40.10" y="555.00" width="6.70" height="3.00" rx="1.36" fill="#000" opacity="0.12"/><rect x="47.40" y="555.00" width="6.10" height="3.00" rx="1.36" fill="#000" opacity="0.12"/><rect x="41.10" y="555.75" width="11.40" height="1.50" fill="#000" opacity="0.06"/>
<rect x="39.60" y="568.90" width="14.4" height="6.0" rx="2.6" fill="#000" opacity="0.95"/>
<rect x="39.60" y="601.90" width="14.4" height="3.4" rx="1.6" fill="#000" opacity="0.5"/>
<rect x="41.30" y="610.50" width="11" height="2.2" rx="1" fill="#000" opacity="0.16"/>
<rect x="57.10" y="478.08" width="13" height="3.0" rx="1.3" fill="#000" opacity="0.09"/>
<rect x="56.60" y="489.68" width="14" height="4.6" rx="2" fill="#000" opacity="0.72"/>
<rect x="56.90" y="526.03" width="6.70" height="4.20" rx="1.91" fill="#000" opacity="0.58"/><rect x="64.20" y="526.03" width="6.10" height="4.20" rx="1.91" fill="#000" opacity="0.58"/><rect x="57.90" y="527.08" width="11.40" height="2.10" fill="#000" opacity="0.29"/>
<rect x="56.90" y="554.92" width="6.70" height="3.00" rx="1.36" fill="#000" opacity="0.2"/><rect x="64.20" y="554.92" width="6.10" height="3.00" rx="1.36" fill="#000" opacity="0.2"/><rect x="57.90" y="555.67" width="11.40" height="1.50" fill="#000" opacity="0.10"/>
<rect x="56.40" y="568.84" width="14.4" height="6.0" rx="2.6" fill="#000" opacity="0.9"/>
<rect x="56.40" y="601.90" width="14.4" height="3.4" rx="1.6" fill="#000" opacity="0.9"/>
<rect x="58.10" y="610.50" width="11" height="2.2" rx="1" fill="#000" opacity="0.16"/>
<rect x="73.50" y="477.96" width="13" height="3.0" rx="1.3" fill="#000" opacity="0.11"/>
<rect x="73.00" y="489.56" width="14" height="4.6" rx="2" fill="#000" opacity="0.76"/>
<rect x="73.30" y="525.96" width="6.70" height="4.20" rx="1.91" fill="#000" opacity="0.22"/><rect x="80.60" y="525.96" width="6.10" height="4.20" rx="1.91" fill="#000" opacity="0.22"/><rect x="74.30" y="527.01" width="11.40" height="2.10" fill="#000" opacity="0.11"/>
<rect x="73.30" y="554.83" width="6.70" height="3.00" rx="1.36" fill="#000" opacity="0.24"/><rect x="80.60" y="554.83" width="6.10" height="3.00" rx="1.36" fill="#000" opacity="0.24"/><rect x="74.30" y="555.58" width="11.40" height="1.50" fill="#000" opacity="0.12"/>
<rect x="72.80" y="568.78" width="14.4" height="6.0" rx="2.6" fill="#000" opacity="0.95"/>
<rect x="72.80" y="601.90" width="14.4" height="3.4" rx="1.6" fill="#000" opacity="0.85"/>
<rect x="74.50" y="610.50" width="11" height="2.2" rx="1" fill="#000" opacity="0.16"/>
<rect x="89.80" y="477.84" width="13" height="3.0" rx="1.3" fill="#000" opacity="0.15"/>
<rect x="89.30" y="489.44" width="14" height="4.6" rx="2" fill="#000" opacity="0.8"/>
<rect x="89.60" y="525.88" width="6.70" height="4.20" rx="1.91" fill="#000" opacity="0.2"/><rect x="96.90" y="525.88" width="6.10" height="4.20" rx="1.91" fill="#000" opacity="0.2"/><rect x="90.60" y="526.93" width="11.40" height="2.10" fill="#000" opacity="0.10"/>
<rect x="89.60" y="554.75" width="6.70" height="3.00" rx="1.36" fill="#000" opacity="0.2"/><rect x="96.90" y="554.75" width="6.10" height="3.00" rx="1.36" fill="#000" opacity="0.2"/><rect x="90.60" y="555.50" width="11.40" height="1.50" fill="#000" opacity="0.10"/>
<rect x="89.10" y="568.72" width="14.4" height="6.0" rx="2.6" fill="#000" opacity="0.95"/>
<rect x="89.10" y="601.90" width="14.4" height="3.4" rx="1.6" fill="#000" opacity="0.85"/>
<rect x="90.80" y="610.50" width="11" height="2.2" rx="1" fill="#000" opacity="0.16"/>
<rect x="106.00" y="477.72" width="13" height="3.0" rx="1.3" fill="#000" opacity="0.15"/>
<rect x="105.50" y="489.32" width="14" height="4.6" rx="2" fill="#000" opacity="0.78"/>
<rect x="105.80" y="525.81" width="6.70" height="4.20" rx="1.91" fill="#000" opacity="0.36"/><rect x="113.10" y="525.81" width="6.10" height="4.20" rx="1.91" fill="#000" opacity="0.36"/><rect x="106.80" y="526.86" width="11.40" height="2.10" fill="#000" opacity="0.18"/>
<rect x="105.80" y="554.66" width="6.70" height="3.00" rx="1.36" fill="#000" opacity="0.18"/><rect x="113.10" y="554.66" width="6.10" height="3.00" rx="1.36" fill="#000" opacity="0.18"/><rect x="106.80" y="555.41" width="11.40" height="1.50" fill="#000" opacity="0.09"/>
<rect x="105.30" y="568.66" width="14.4" height="6.0" rx="2.6" fill="#000" opacity="0.95"/>
<rect x="105.30" y="601.90" width="14.4" height="3.4" rx="1.6" fill="#000" opacity="0.9"/>
<rect x="107.00" y="610.50" width="11" height="2.2" rx="1" fill="#000" opacity="0.16"/>
<rect x="122.40" y="477.60" width="13" height="3.0" rx="1.3" fill="#000" opacity="0.15"/>
<rect x="121.90" y="489.20" width="14" height="4.6" rx="2" fill="#000" opacity="0.78"/>
<rect x="122.20" y="525.74" width="6.70" height="4.20" rx="1.91" fill="#000" opacity="0.36"/><rect x="129.50" y="525.74" width="6.10" height="4.20" rx="1.91" fill="#000" opacity="0.36"/><rect x="123.20" y="526.79" width="11.40" height="2.10" fill="#000" opacity="0.18"/>
<rect x="122.20" y="554.58" width="6.70" height="3.00" rx="1.36" fill="#000" opacity="0.24"/><rect x="129.50" y="554.58" width="6.10" height="3.00" rx="1.36" fill="#000" opacity="0.24"/><rect x="123.20" y="555.33" width="11.40" height="1.50" fill="#000" opacity="0.12"/>
<rect x="121.70" y="568.60" width="14.4" height="6.0" rx="2.6" fill="#000" opacity="0.92"/>
<rect x="121.70" y="601.90" width="14.4" height="3.4" rx="1.6" fill="#000" opacity="0.88"/>
<rect x="123.40" y="610.50" width="11" height="2.2" rx="1" fill="#000" opacity="0.16"/>
<rect x="137.80" y="477.48" width="13" height="3.0" rx="1.3" fill="#000" opacity="0.14"/>
<rect x="137.30" y="489.08" width="14" height="4.6" rx="2" fill="#000" opacity="0.8"/>
<rect x="137.60" y="525.67" width="6.70" height="4.20" rx="1.91" fill="#000" opacity="0.22"/><rect x="144.90" y="525.67" width="6.10" height="4.20" rx="1.91" fill="#000" opacity="0.22"/><rect x="138.60" y="526.72" width="11.40" height="2.10" fill="#000" opacity="0.11"/>
<rect x="137.60" y="554.50" width="6.70" height="3.00" rx="1.36" fill="#000" opacity="0.2"/><rect x="144.90" y="554.50" width="6.10" height="3.00" rx="1.36" fill="#000" opacity="0.2"/><rect x="138.60" y="555.25" width="11.40" height="1.50" fill="#000" opacity="0.10"/>
<rect x="137.10" y="568.54" width="14.4" height="6.0" rx="2.6" fill="#000" opacity="0.88"/>
<rect x="137.10" y="601.90" width="14.4" height="3.4" rx="1.6" fill="#000" opacity="0.85"/>
<rect x="138.80" y="610.50" width="11" height="2.2" rx="1" fill="#000" opacity="0.16"/>
<rect x="153.00" y="477.36" width="13" height="3.0" rx="1.3" fill="#000" opacity="0.14"/>
<rect x="152.50" y="488.96" width="14" height="4.6" rx="2" fill="#000" opacity="0.78"/>
<rect x="152.80" y="525.60" width="6.70" height="4.20" rx="1.91" fill="#000" opacity="0.3"/><rect x="160.10" y="525.60" width="6.10" height="4.20" rx="1.91" fill="#000" opacity="0.3"/><rect x="153.80" y="526.65" width="11.40" height="2.10" fill="#000" opacity="0.15"/>
<rect x="152.80" y="554.41" width="6.70" height="3.00" rx="1.36" fill="#000" opacity="0.24"/><rect x="160.10" y="554.41" width="6.10" height="3.00" rx="1.36" fill="#000" opacity="0.24"/><rect x="153.80" y="555.16" width="11.40" height="1.50" fill="#000" opacity="0.12"/>
<rect x="152.30" y="568.48" width="14.4" height="6.0" rx="2.6" fill="#000" opacity="0.98"/>
<rect x="152.30" y="601.90" width="14.4" height="3.4" rx="1.6" fill="#000" opacity="0.65"/>
<rect x="154.00" y="610.50" width="11" height="2.2" rx="1" fill="#000" opacity="0.16"/>
<rect x="168.60" y="477.24" width="13" height="3.0" rx="1.3" fill="#000" opacity="0.13"/>
<rect x="168.10" y="488.84" width="14" height="4.6" rx="2" fill="#000" opacity="0.76"/>
<rect x="168.40" y="525.52" width="6.70" height="4.20" rx="1.91" fill="#000" opacity="0.22"/><rect x="175.70" y="525.52" width="6.10" height="4.20" rx="1.91" fill="#000" opacity="0.22"/><rect x="169.40" y="526.57" width="11.40" height="2.10" fill="#000" opacity="0.11"/>
<rect x="168.40" y="554.33" width="6.70" height="3.00" rx="1.36" fill="#000" opacity="0.2"/><rect x="175.70" y="554.33" width="6.10" height="3.00" rx="1.36" fill="#000" opacity="0.2"/><rect x="169.40" y="555.08" width="11.40" height="1.50" fill="#000" opacity="0.10"/>
<rect x="167.90" y="568.42" width="14.4" height="6.0" rx="2.6" fill="#000" opacity="0.88"/>
<rect x="167.90" y="601.90" width="14.4" height="3.4" rx="1.6" fill="#000" opacity="0.9"/>
<rect x="169.60" y="610.50" width="11" height="2.2" rx="1" fill="#000" opacity="0.16"/>
<rect x="184.10" y="477.12" width="13" height="3.0" rx="1.3" fill="#000" opacity="0.16"/>
<rect x="183.60" y="488.72" width="14" height="4.6" rx="2" fill="#000" opacity="0.74"/>
<rect x="183.90" y="525.45" width="6.70" height="4.20" rx="1.91" fill="#000" opacity="0.24"/><rect x="191.20" y="525.45" width="6.10" height="4.20" rx="1.91" fill="#000" opacity="0.24"/><rect x="184.90" y="526.50" width="11.40" height="2.10" fill="#000" opacity="0.12"/>
<rect x="183.90" y="554.24" width="6.70" height="3.00" rx="1.36" fill="#000" opacity="0.24"/><rect x="191.20" y="554.24" width="6.10" height="3.00" rx="1.36" fill="#000" opacity="0.24"/><rect x="184.90" y="554.99" width="11.40" height="1.50" fill="#000" opacity="0.12"/>
<rect x="183.40" y="568.36" width="14.4" height="6.0" rx="2.6" fill="#000" opacity="0.9"/>
<rect x="183.40" y="601.90" width="14.4" height="3.4" rx="1.6" fill="#000" opacity="0.7"/>
<rect x="185.10" y="610.50" width="11" height="2.2" rx="1" fill="#000" opacity="0.16"/>
<rect x="200.60" y="477.00" width="13" height="3.0" rx="1.3" fill="#000" opacity="0.19"/>
<rect x="200.10" y="488.60" width="14" height="4.6" rx="2" fill="#000" opacity="0.8"/>
<rect x="200.40" y="525.38" width="6.70" height="4.20" rx="1.91" fill="#000" opacity="0.4"/><rect x="207.70" y="525.38" width="6.10" height="4.20" rx="1.91" fill="#000" opacity="0.4"/><rect x="201.40" y="526.43" width="11.40" height="2.10" fill="#000" opacity="0.20"/>
<rect x="200.40" y="554.16" width="6.70" height="3.00" rx="1.36" fill="#000" opacity="0.12"/><rect x="207.70" y="554.16" width="6.10" height="3.00" rx="1.36" fill="#000" opacity="0.12"/><rect x="201.40" y="554.91" width="11.40" height="1.50" fill="#000" opacity="0.06"/>
<rect x="199.90" y="568.30" width="14.4" height="6.0" rx="2.6" fill="#000" opacity="0.75"/>
<rect x="199.90" y="601.90" width="14.4" height="3.4" rx="1.6" fill="#000" opacity="0.75"/>
<rect x="201.60" y="610.50" width="11" height="2.2" rx="1" fill="#000" opacity="0.16"/>
<rect x="219.20" y="476.88" width="13" height="3.0" rx="1.3" fill="#000" opacity="0.26"/>
<rect x="218.70" y="488.48" width="14" height="4.6" rx="2" fill="#000" opacity="0.84"/>
<rect x="219.00" y="525.31" width="6.70" height="4.20" rx="1.91" fill="#000" opacity="0.52"/><rect x="226.30" y="525.31" width="6.10" height="4.20" rx="1.91" fill="#000" opacity="0.52"/><rect x="220.00" y="526.36" width="11.40" height="2.10" fill="#000" opacity="0.26"/>
<rect x="219.00" y="554.08" width="6.70" height="3.00" rx="1.36" fill="#000" opacity="0.13"/><rect x="226.30" y="554.08" width="6.10" height="3.00" rx="1.36" fill="#000" opacity="0.13"/><rect x="220.00" y="554.83" width="11.40" height="1.50" fill="#000" opacity="0.07"/>
<rect x="218.50" y="568.24" width="14.4" height="6.0" rx="2.6" fill="#000" opacity="0.85"/>
<rect x="218.50" y="601.90" width="14.4" height="3.4" rx="1.6" fill="#000" opacity="0.65"/>
<rect x="220.20" y="610.50" width="11" height="2.2" rx="1" fill="#000" opacity="0.16"/>
</g>
<text x="0.00" y="10.80" font-size="14.3" text-anchor="start" font-weight="bold" fill="#000" textLength="15.0" lengthAdjust="spacingAndGlyphs" >A.</text>
<text x="255.90" y="10.80" font-size="14.3" text-anchor="start" font-weight="bold" fill="#000" textLength="14.1" lengthAdjust="spacingAndGlyphs" >B.</text>
<text x="491.00" y="10.80" font-size="14.3" text-anchor="start" font-weight="bold" fill="#000" textLength="14.2" lengthAdjust="spacingAndGlyphs" >C.</text>
<text x="-0.10" y="221.00" font-size="14.3" text-anchor="start" font-weight="bold" fill="#000" textLength="15.0" lengthAdjust="spacingAndGlyphs" >D.</text>
<text x="256.30" y="220.90" font-size="14.3" text-anchor="start" font-weight="bold" fill="#000" textLength="12.5" lengthAdjust="spacingAndGlyphs" >E.</text>
<text x="492.60" y="220.90" font-size="14.3" text-anchor="start" font-weight="bold" fill="#000" textLength="10.8" lengthAdjust="spacingAndGlyphs" >F.</text>
<text x="-0.80" y="430.70" font-size="14.3" text-anchor="start" font-weight="bold" fill="#000" textLength="15.8" lengthAdjust="spacingAndGlyphs" >G.</text>
<text x="287.60" y="430.80" font-size="14.3" text-anchor="start" font-weight="bold" fill="#000" textLength="15.5" lengthAdjust="spacingAndGlyphs" >H.</text>
<text x="495.00" y="430.70" font-size="14.3" text-anchor="start" font-weight="bold" fill="#000" textLength="9.1" lengthAdjust="spacingAndGlyphs" >I.</text>
<text x="2.20" y="643.90" font-size="14.3" text-anchor="start" font-weight="bold" fill="#000" textLength="9.9" lengthAdjust="spacingAndGlyphs" >J.</text>
<text x="236.60" y="643.90" font-size="14.3" text-anchor="start" font-weight="bold" fill="#000" textLength="13.6" lengthAdjust="spacingAndGlyphs" >K.</text>
<text x="472.80" y="643.90" font-size="14.3" text-anchor="start" font-weight="bold" fill="#000" textLength="12.0" lengthAdjust="spacingAndGlyphs" >L.</text>
</svg></body></html>
